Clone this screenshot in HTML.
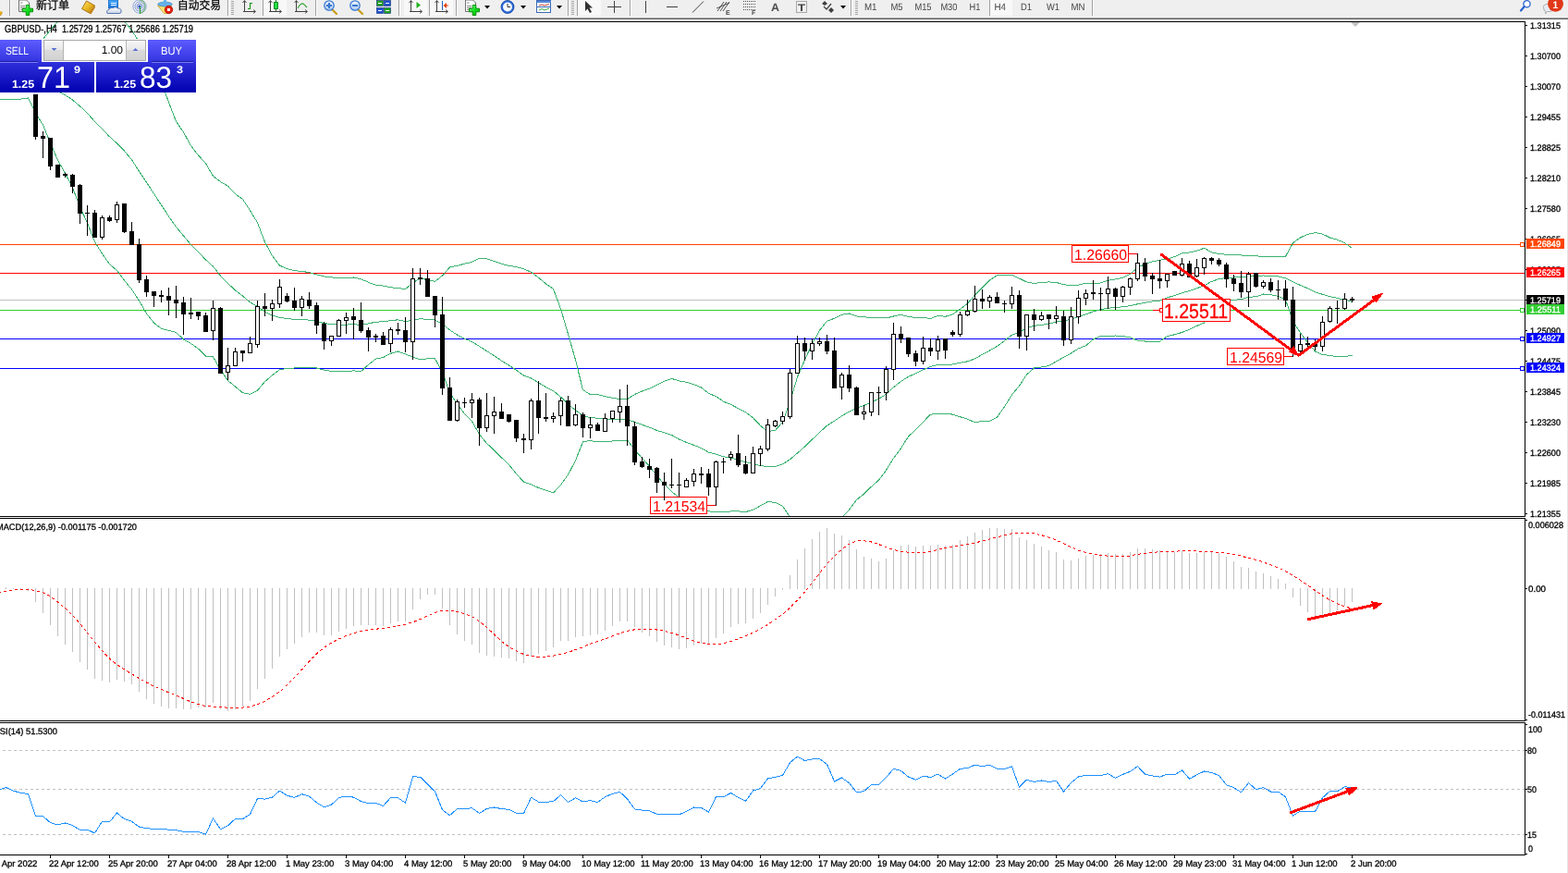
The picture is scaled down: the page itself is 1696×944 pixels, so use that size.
<!DOCTYPE html><html><head><meta charset="utf-8"><title>GBPUSD-,H4</title><style>html,body{margin:0;padding:0;background:#fff;width:1696px;height:944px;overflow:hidden}svg{display:block}text{font-family:"Liberation Sans","Noto Sans CJK SC",sans-serif}.t{text-rendering:geometricPrecision}</style></head><body>
<svg width="1696" height="944" viewBox="0 0 1696 944" shape-rendering="crispEdges">
<defs><clipPath id="cm"><rect x="0" y="24" width="1649" height="534"/></clipPath><clipPath id="cmacd"><rect x="0" y="561" width="1649" height="218"/></clipPath><clipPath id="crsi"><rect x="0" y="782" width="1649" height="142"/></clipPath><clipPath id="cax"><rect x="0" y="925" width="1649" height="19"/></clipPath></defs>
<rect x="0" y="0" width="1696" height="944" fill="#ffffff"/>
<g clip-path="url(#cm)">
<rect x="0" y="264" width="1649" height="1" fill="#ff4500"/>
<rect x="0" y="295" width="1649" height="1" fill="#ff0000"/>
<rect x="0" y="324" width="1649" height="1" fill="#c0c0c0"/>
<rect x="0" y="335" width="1649" height="1" fill="#32cd32"/>
<rect x="0" y="366" width="1649" height="1" fill="#0000ff"/>
<rect x="0" y="398" width="1649" height="1" fill="#0000ff"/>
<rect x="1644" y="262" width="5" height="5" fill="#ff4500"/>
<rect x="1645" y="263" width="3" height="3" fill="#fff"/>
<rect x="1644" y="333" width="5" height="5" fill="#32cd32"/>
<rect x="1645" y="334" width="3" height="3" fill="#fff"/>
<rect x="1644" y="364" width="5" height="5" fill="#0000ff"/>
<rect x="1645" y="365" width="3" height="3" fill="#fff"/>
<rect x="1644" y="396" width="5" height="5" fill="#0000ff"/>
<rect x="1645" y="397" width="3" height="3" fill="#fff"/>
<polyline points="-1.5,45.7 6.5,45.2 14.5,45.7 22.5,48.3 30.5,55.8 38.5,48.3 46.5,42.4 54.5,32.3 62.5,23.6 70.5,18.0 78.5,12.8 86.5,6.0 94.5,3.3 102.5,1.8 110.5,5.0 118.5,9.9 126.5,17.4 134.5,23.0 142.5,32.8 150.5,45.3 158.5,55.1 166.5,70.0 174.5,88.1 182.5,110.6 190.5,131.3 198.5,143.0 206.5,157.6 214.5,167.9 222.5,176.6 230.5,190.4 238.5,196.5 246.5,201.1 254.5,209.8 262.5,215.5 270.5,227.6 278.5,240.8 286.5,261.8 294.5,276.6 302.5,287.1 310.5,290.6 318.5,292.8 326.5,293.3 334.5,294.7 342.5,296.9 350.5,298.9 358.5,299.9 366.5,300.4 374.5,300.6 382.5,300.0 390.5,301.7 398.5,305.3 406.5,308.3 414.5,309.1 422.5,310.8 430.5,311.6 438.5,312.6 446.5,306.0 454.5,300.8 462.5,302.7 470.5,304.3 478.5,298.1 486.5,289.0 494.5,287.4 502.5,285.2 510.5,283.4 518.5,279.2 526.5,279.9 534.5,282.5 542.5,285.3 550.5,287.5 558.5,288.5 566.5,290.8 574.5,294.3 582.5,300.2 590.5,306.9 598.5,312.4 606.5,334.0 614.5,361.1 622.5,389.2 630.5,421.6 638.5,426.7 646.5,426.5 654.5,428.7 662.5,430.2 670.5,431.6 678.5,431.6 686.5,426.5 694.5,423.0 702.5,420.1 710.5,416.1 718.5,412.2 726.5,409.4 734.5,411.9 742.5,413.3 750.5,415.7 758.5,418.9 766.5,425.4 774.5,428.6 782.5,434.2 790.5,437.3 798.5,441.7 806.5,445.6 814.5,451.7 822.5,460.3 830.5,466.7 838.5,465.3 846.5,456.5 854.5,434.6 862.5,407.6 870.5,389.1 878.5,371.9 886.5,357.3 894.5,347.1 902.5,344.3 910.5,340.3 918.5,339.0 926.5,341.9 934.5,342.9 942.5,343.2 950.5,343.7 958.5,344.0 966.5,342.0 974.5,340.2 982.5,342.5 990.5,343.4 998.5,343.5 1006.5,344.5 1014.5,341.4 1022.5,342.3 1030.5,339.9 1038.5,334.2 1046.5,328.4 1054.5,319.1 1062.5,311.0 1070.5,302.9 1078.5,297.7 1086.5,297.3 1094.5,297.4 1102.5,301.1 1110.5,304.9 1118.5,306.5 1126.5,305.5 1134.5,304.9 1142.5,305.4 1150.5,307.8 1158.5,308.5 1166.5,308.1 1174.5,306.1 1182.5,306.9 1190.5,306.0 1198.5,303.2 1206.5,302.0 1214.5,300.1 1222.5,296.3 1230.5,289.2 1238.5,285.7 1246.5,282.9 1254.5,281.2 1262.5,280.0 1270.5,277.6 1278.5,273.9 1286.5,272.9 1294.5,271.2 1302.5,268.3 1310.5,272.9 1318.5,274.5 1326.5,275.3 1334.5,275.8 1342.5,276.0 1350.5,276.4 1358.5,276.6 1366.5,278.0 1374.5,277.7 1382.5,277.2 1390.5,277.4 1398.5,262.7 1406.5,256.9 1414.5,253.3 1422.5,251.6 1430.5,253.1 1438.5,257.0 1446.5,259.2 1454.5,262.7 1462.5,268.4" fill="none" stroke="#3cb371" stroke-width="1"/>
<polyline points="-1.5,76.7 6.5,76.3 14.5,76.6 22.5,77.7 30.5,80.9 38.5,85.3 46.5,88.7 54.5,93.4 62.5,98.4 70.5,102.8 78.5,108.0 86.5,114.9 94.5,122.2 102.5,131.6 110.5,139.7 118.5,147.8 126.5,155.0 134.5,163.1 142.5,172.8 150.5,185.3 158.5,197.2 166.5,209.5 174.5,221.7 182.5,234.0 190.5,245.4 198.5,255.0 206.5,264.5 214.5,272.6 222.5,280.9 230.5,288.1 238.5,298.2 246.5,306.4 254.5,313.9 262.5,320.1 270.5,326.9 278.5,331.6 286.5,337.2 294.5,341.1 302.5,343.4 310.5,344.5 318.5,345.4 326.5,345.6 334.5,346.1 342.5,347.5 350.5,349.5 358.5,350.7 366.5,351.0 374.5,351.1 382.5,350.5 390.5,351.7 398.5,349.8 406.5,348.2 414.5,347.8 422.5,346.6 430.5,345.8 438.5,347.7 446.5,346.1 454.5,344.8 462.5,345.3 470.5,346.0 478.5,350.4 486.5,356.9 494.5,362.1 502.5,366.3 510.5,369.5 518.5,374.5 526.5,379.6 534.5,384.7 542.5,390.1 550.5,395.0 558.5,400.4 566.5,406.0 574.5,409.0 582.5,413.8 590.5,418.6 598.5,422.6 606.5,429.2 614.5,437.2 622.5,443.6 630.5,449.6 638.5,451.6 646.5,452.2 654.5,453.1 662.5,453.6 670.5,453.9 678.5,453.8 686.5,456.3 694.5,459.3 702.5,462.1 710.5,465.4 718.5,467.9 726.5,470.4 734.5,475.0 742.5,478.4 750.5,481.4 758.5,484.5 766.5,489.2 774.5,491.1 782.5,493.7 790.5,495.2 798.5,497.3 806.5,499.6 814.5,501.5 822.5,503.6 830.5,504.6 838.5,504.4 846.5,501.9 854.5,496.8 862.5,490.0 870.5,482.9 878.5,475.2 886.5,467.5 894.5,460.2 902.5,455.2 910.5,449.8 918.5,445.1 926.5,441.2 934.5,438.5 942.5,434.7 950.5,431.4 958.5,426.2 966.5,418.7 974.5,412.5 982.5,407.3 990.5,403.9 998.5,399.9 1006.5,396.3 1014.5,394.5 1022.5,394.9 1030.5,394.0 1038.5,392.4 1046.5,390.8 1054.5,387.9 1062.5,383.3 1070.5,379.1 1078.5,374.4 1086.5,368.5 1094.5,362.2 1102.5,359.2 1110.5,354.9 1118.5,352.3 1126.5,351.3 1134.5,350.2 1142.5,348.1 1150.5,347.0 1158.5,345.3 1166.5,342.4 1174.5,339.9 1182.5,336.9 1190.5,334.7 1198.5,333.3 1206.5,332.5 1214.5,331.8 1222.5,330.6 1230.5,328.8 1238.5,327.3 1246.5,326.0 1254.5,325.2 1262.5,321.8 1270.5,319.7 1278.5,316.7 1286.5,314.6 1294.5,311.8 1302.5,308.7 1310.5,304.4 1318.5,301.6 1326.5,300.5 1334.5,300.0 1342.5,299.9 1350.5,298.9 1358.5,298.7 1366.5,298.0 1374.5,298.2 1382.5,298.8 1390.5,300.8 1398.5,304.9 1406.5,308.4 1414.5,311.9 1422.5,315.8 1430.5,318.3 1438.5,320.7 1446.5,322.4 1454.5,324.1 1462.5,326.4" fill="none" stroke="#3cb371" stroke-width="1"/>
<polyline points="-1.5,107.7 6.5,107.3 14.5,107.5 22.5,107.1 30.5,106.0 38.5,122.2 46.5,135.1 54.5,154.6 62.5,173.2 70.5,187.5 78.5,203.1 86.5,223.8 94.5,241.2 102.5,261.5 110.5,274.3 118.5,285.7 126.5,292.5 134.5,303.2 142.5,312.9 150.5,325.2 158.5,339.2 166.5,349.1 174.5,355.3 182.5,357.4 190.5,359.4 198.5,367.0 206.5,371.4 214.5,377.2 222.5,385.2 230.5,385.9 238.5,399.9 246.5,411.7 254.5,418.0 262.5,424.8 270.5,426.3 278.5,422.3 286.5,412.7 294.5,405.7 302.5,399.7 310.5,398.4 318.5,398.0 326.5,397.8 334.5,397.5 342.5,398.0 350.5,400.1 358.5,401.5 366.5,401.6 374.5,401.6 382.5,400.9 390.5,401.7 398.5,394.3 406.5,388.1 414.5,386.5 422.5,382.3 430.5,380.0 438.5,382.8 446.5,386.2 454.5,388.7 462.5,387.8 470.5,387.7 478.5,402.6 486.5,424.8 494.5,436.8 502.5,447.4 510.5,455.6 518.5,469.7 526.5,479.3 534.5,487.0 542.5,494.8 550.5,502.5 558.5,512.3 566.5,521.2 574.5,523.8 582.5,527.4 590.5,530.3 598.5,532.9 606.5,524.5 614.5,513.2 622.5,497.9 630.5,477.7 638.5,476.5 646.5,477.9 654.5,477.5 662.5,477.0 670.5,476.2 678.5,476.0 686.5,486.2 694.5,495.6 702.5,504.0 710.5,514.6 718.5,523.7 726.5,531.5 734.5,538.1 742.5,543.4 750.5,547.0 758.5,550.1 766.5,552.9 774.5,553.6 782.5,553.2 790.5,553.0 798.5,552.9 806.5,553.6 814.5,551.3 822.5,546.9 830.5,542.5 838.5,543.4 846.5,547.3 854.5,559.1 862.5,572.4 870.5,576.7 878.5,578.5 886.5,577.7 894.5,573.3 902.5,566.1 910.5,559.4 918.5,551.3 926.5,540.5 934.5,534.2 942.5,526.2 950.5,519.1 958.5,508.4 966.5,495.4 974.5,484.7 982.5,472.2 990.5,464.3 998.5,456.3 1006.5,448.1 1014.5,447.6 1022.5,447.4 1030.5,448.1 1038.5,450.7 1046.5,453.2 1054.5,456.8 1062.5,455.5 1070.5,455.2 1078.5,451.2 1086.5,439.7 1094.5,426.9 1102.5,417.3 1110.5,405.0 1118.5,398.0 1126.5,397.0 1134.5,395.5 1142.5,390.9 1150.5,386.2 1158.5,382.1 1166.5,376.8 1174.5,373.8 1182.5,366.9 1190.5,363.4 1198.5,363.4 1206.5,363.0 1214.5,363.6 1222.5,364.9 1230.5,368.3 1238.5,369.0 1246.5,369.0 1254.5,369.2 1262.5,363.6 1270.5,361.8 1278.5,359.4 1286.5,356.3 1294.5,352.4 1302.5,349.1 1310.5,335.9 1318.5,328.6 1326.5,325.7 1334.5,324.2 1342.5,323.8 1350.5,321.3 1358.5,320.8 1366.5,318.0 1374.5,318.6 1382.5,320.4 1390.5,324.2 1398.5,347.1 1406.5,360.0 1414.5,370.4 1422.5,380.0 1430.5,383.5 1438.5,384.5 1446.5,385.7 1454.5,385.6 1462.5,384.4" fill="none" stroke="#3cb371" stroke-width="1"/>
</g>
<g clip-path="url(#cm)">
<rect x="1159" y="265" width="62" height="19" fill="#ff0000"/>
<rect x="1160" y="266" width="60" height="17" fill="#ffffff"/>
<rect x="1221" y="274" width="10" height="1" fill="#ff0000"/>
<text x="1162" y="281" font-size="16" fill="#ff0000" textLength="57" lengthAdjust="spacingAndGlyphs" class="t" stroke="#ff0000" stroke-width="0">1.26660</text>
<rect x="703" y="537" width="62" height="19" fill="#ff0000"/>
<rect x="704" y="538" width="60" height="17" fill="#ffffff"/>
<rect x="765" y="546" width="10" height="1" fill="#ff0000"/>
<text x="706" y="553" font-size="16" fill="#ff0000" textLength="57" lengthAdjust="spacingAndGlyphs" class="t" stroke="#ff0000" stroke-width="0">1.21534</text>
<rect x="1327" y="376" width="62" height="19" fill="#ff0000"/>
<rect x="1328" y="377" width="60" height="17" fill="#ffffff"/>
<rect x="1389" y="385" width="10" height="1" fill="#ff0000"/>
<text x="1330" y="392" font-size="16" fill="#ff0000" textLength="57" lengthAdjust="spacingAndGlyphs" class="t" stroke="#ff0000" stroke-width="0">1.24569</text>
<rect x="1247" y="335" width="8" height="1" fill="#ff0000"/>
<rect x="1254" y="333" width="4" height="5" fill="#ff0000"/>
<rect x="1255" y="334" width="2" height="3" fill="#fff"/>
<rect x="1257" y="323" width="74" height="25" fill="#ff0000"/>
<rect x="1258" y="324" width="72" height="23" fill="#ffffff"/>
<text x="1259" y="344" font-size="22" fill="#ff0000" textLength="69" lengthAdjust="spacingAndGlyphs" class="t" stroke="#ff0000" stroke-width="0.3">1.25511</text>
</g>
<g clip-path="url(#cm)">
<rect x="38" y="102" width="1" height="49" fill="#000"/>
<rect x="36" y="102" width="5" height="46" fill="#000"/>
<rect x="46" y="142" width="1" height="29" fill="#000"/>
<rect x="44" y="147" width="5" height="3" fill="#000"/>
<rect x="54" y="149" width="1" height="35" fill="#000"/>
<rect x="52" y="149" width="5" height="31" fill="#000"/>
<rect x="62" y="178" width="1" height="14" fill="#000"/>
<rect x="60" y="178" width="5" height="14" fill="#000"/>
<rect x="70" y="187" width="1" height="5" fill="#000"/>
<rect x="68" y="188" width="5" height="2" fill="#000"/>
<rect x="78" y="188" width="1" height="21" fill="#000"/>
<rect x="76" y="189" width="5" height="13" fill="#000"/>
<rect x="86" y="199" width="1" height="43" fill="#000"/>
<rect x="84" y="200" width="5" height="31" fill="#000"/>
<rect x="94" y="222" width="1" height="33" fill="#000"/>
<rect x="92" y="230" width="5" height="1" fill="#000"/>
<rect x="102" y="227" width="1" height="30" fill="#000"/>
<rect x="100" y="230" width="5" height="27" fill="#000"/>
<rect x="110" y="233" width="1" height="26" fill="#000"/>
<rect x="108" y="235" width="5" height="22" fill="#000"/>
<rect x="109" y="236" width="3" height="20" fill="#fff"/>
<rect x="118" y="233" width="1" height="7" fill="#000"/>
<rect x="116" y="235" width="5" height="4" fill="#000"/>
<rect x="126" y="218" width="1" height="23" fill="#000"/>
<rect x="124" y="221" width="5" height="17" fill="#000"/>
<rect x="125" y="222" width="3" height="15" fill="#fff"/>
<rect x="134" y="220" width="1" height="32" fill="#000"/>
<rect x="132" y="220" width="5" height="31" fill="#000"/>
<rect x="142" y="240" width="1" height="25" fill="#000"/>
<rect x="140" y="250" width="5" height="15" fill="#000"/>
<rect x="150" y="258" width="1" height="48" fill="#000"/>
<rect x="148" y="264" width="5" height="39" fill="#000"/>
<rect x="158" y="298" width="1" height="23" fill="#000"/>
<rect x="156" y="302" width="5" height="14" fill="#000"/>
<rect x="166" y="315" width="1" height="17" fill="#000"/>
<rect x="164" y="315" width="5" height="5" fill="#000"/>
<rect x="174" y="314" width="1" height="13" fill="#000"/>
<rect x="172" y="319" width="5" height="2" fill="#000"/>
<rect x="182" y="311" width="1" height="30" fill="#000"/>
<rect x="180" y="320" width="5" height="5" fill="#000"/>
<rect x="190" y="309" width="1" height="35" fill="#000"/>
<rect x="188" y="324" width="5" height="4" fill="#000"/>
<rect x="198" y="321" width="1" height="41" fill="#000"/>
<rect x="196" y="327" width="5" height="13" fill="#000"/>
<rect x="206" y="322" width="1" height="23" fill="#000"/>
<rect x="204" y="338" width="5" height="2" fill="#000"/>
<rect x="214" y="337" width="1" height="9" fill="#000"/>
<rect x="212" y="337" width="5" height="5" fill="#000"/>
<rect x="222" y="338" width="1" height="21" fill="#000"/>
<rect x="220" y="341" width="5" height="18" fill="#000"/>
<rect x="230" y="325" width="1" height="43" fill="#000"/>
<rect x="228" y="333" width="5" height="25" fill="#000"/>
<rect x="229" y="334" width="3" height="23" fill="#fff"/>
<rect x="238" y="332" width="1" height="72" fill="#000"/>
<rect x="236" y="333" width="5" height="71" fill="#000"/>
<rect x="246" y="376" width="1" height="35" fill="#000"/>
<rect x="244" y="395" width="5" height="8" fill="#000"/>
<rect x="245" y="396" width="3" height="6" fill="#fff"/>
<rect x="254" y="376" width="1" height="20" fill="#000"/>
<rect x="252" y="380" width="5" height="16" fill="#000"/>
<rect x="253" y="381" width="3" height="14" fill="#fff"/>
<rect x="262" y="379" width="1" height="12" fill="#000"/>
<rect x="260" y="379" width="5" height="3" fill="#000"/>
<rect x="270" y="364" width="1" height="18" fill="#000"/>
<rect x="268" y="371" width="5" height="11" fill="#000"/>
<rect x="269" y="372" width="3" height="9" fill="#fff"/>
<rect x="278" y="325" width="1" height="51" fill="#000"/>
<rect x="276" y="331" width="5" height="42" fill="#000"/>
<rect x="277" y="332" width="3" height="40" fill="#fff"/>
<rect x="286" y="317" width="1" height="25" fill="#000"/>
<rect x="284" y="331" width="5" height="3" fill="#000"/>
<rect x="294" y="324" width="1" height="23" fill="#000"/>
<rect x="292" y="328" width="5" height="6" fill="#000"/>
<rect x="293" y="329" width="3" height="4" fill="#fff"/>
<rect x="302" y="302" width="1" height="31" fill="#000"/>
<rect x="300" y="310" width="5" height="19" fill="#000"/>
<rect x="301" y="311" width="3" height="17" fill="#fff"/>
<rect x="310" y="317" width="1" height="10" fill="#000"/>
<rect x="308" y="320" width="5" height="6" fill="#000"/>
<rect x="318" y="311" width="1" height="25" fill="#000"/>
<rect x="316" y="325" width="5" height="8" fill="#000"/>
<rect x="326" y="320" width="1" height="22" fill="#000"/>
<rect x="324" y="323" width="5" height="10" fill="#000"/>
<rect x="325" y="324" width="3" height="8" fill="#fff"/>
<rect x="334" y="316" width="1" height="18" fill="#000"/>
<rect x="332" y="324" width="5" height="7" fill="#000"/>
<rect x="342" y="327" width="1" height="34" fill="#000"/>
<rect x="340" y="330" width="5" height="22" fill="#000"/>
<rect x="350" y="348" width="1" height="30" fill="#000"/>
<rect x="348" y="350" width="5" height="19" fill="#000"/>
<rect x="358" y="363" width="1" height="11" fill="#000"/>
<rect x="356" y="363" width="5" height="6" fill="#000"/>
<rect x="357" y="364" width="3" height="4" fill="#fff"/>
<rect x="366" y="345" width="1" height="19" fill="#000"/>
<rect x="364" y="346" width="5" height="18" fill="#000"/>
<rect x="365" y="347" width="3" height="16" fill="#fff"/>
<rect x="374" y="338" width="1" height="23" fill="#000"/>
<rect x="372" y="343" width="5" height="4" fill="#000"/>
<rect x="373" y="344" width="3" height="2" fill="#fff"/>
<rect x="382" y="333" width="1" height="34" fill="#000"/>
<rect x="380" y="342" width="5" height="4" fill="#000"/>
<rect x="390" y="327" width="1" height="33" fill="#000"/>
<rect x="388" y="346" width="5" height="12" fill="#000"/>
<rect x="398" y="354" width="1" height="26" fill="#000"/>
<rect x="396" y="357" width="5" height="8" fill="#000"/>
<rect x="406" y="361" width="1" height="9" fill="#000"/>
<rect x="404" y="363" width="5" height="2" fill="#000"/>
<rect x="414" y="359" width="1" height="14" fill="#000"/>
<rect x="412" y="363" width="5" height="10" fill="#000"/>
<rect x="422" y="354" width="1" height="27" fill="#000"/>
<rect x="420" y="356" width="5" height="16" fill="#000"/>
<rect x="421" y="357" width="3" height="14" fill="#fff"/>
<rect x="430" y="349" width="1" height="13" fill="#000"/>
<rect x="428" y="356" width="5" height="2" fill="#000"/>
<rect x="438" y="343" width="1" height="38" fill="#000"/>
<rect x="436" y="357" width="5" height="13" fill="#000"/>
<rect x="446" y="290" width="1" height="99" fill="#000"/>
<rect x="444" y="301" width="5" height="69" fill="#000"/>
<rect x="445" y="302" width="3" height="67" fill="#fff"/>
<rect x="454" y="290" width="1" height="18" fill="#000"/>
<rect x="452" y="300" width="5" height="2" fill="#000"/>
<rect x="462" y="292" width="1" height="29" fill="#000"/>
<rect x="460" y="301" width="5" height="20" fill="#000"/>
<rect x="470" y="320" width="1" height="34" fill="#000"/>
<rect x="468" y="320" width="5" height="21" fill="#000"/>
<rect x="478" y="321" width="1" height="106" fill="#000"/>
<rect x="476" y="340" width="5" height="80" fill="#000"/>
<rect x="486" y="408" width="1" height="47" fill="#000"/>
<rect x="484" y="419" width="5" height="36" fill="#000"/>
<rect x="494" y="432" width="1" height="24" fill="#000"/>
<rect x="492" y="434" width="5" height="21" fill="#000"/>
<rect x="493" y="435" width="3" height="19" fill="#fff"/>
<rect x="502" y="430" width="1" height="11" fill="#000"/>
<rect x="500" y="435" width="5" height="1" fill="#000"/>
<rect x="510" y="425" width="1" height="27" fill="#000"/>
<rect x="508" y="432" width="5" height="4" fill="#000"/>
<rect x="509" y="433" width="3" height="2" fill="#fff"/>
<rect x="518" y="430" width="1" height="52" fill="#000"/>
<rect x="516" y="432" width="5" height="31" fill="#000"/>
<rect x="526" y="425" width="1" height="42" fill="#000"/>
<rect x="524" y="449" width="5" height="14" fill="#000"/>
<rect x="525" y="450" width="3" height="12" fill="#fff"/>
<rect x="534" y="429" width="1" height="40" fill="#000"/>
<rect x="532" y="445" width="5" height="5" fill="#000"/>
<rect x="533" y="446" width="3" height="3" fill="#fff"/>
<rect x="542" y="436" width="1" height="17" fill="#000"/>
<rect x="540" y="445" width="5" height="8" fill="#000"/>
<rect x="550" y="448" width="1" height="9" fill="#000"/>
<rect x="548" y="448" width="5" height="8" fill="#000"/>
<rect x="558" y="454" width="1" height="24" fill="#000"/>
<rect x="556" y="454" width="5" height="20" fill="#000"/>
<rect x="566" y="469" width="1" height="21" fill="#000"/>
<rect x="564" y="474" width="5" height="2" fill="#000"/>
<rect x="574" y="431" width="1" height="55" fill="#000"/>
<rect x="572" y="433" width="5" height="43" fill="#000"/>
<rect x="573" y="434" width="3" height="41" fill="#fff"/>
<rect x="582" y="412" width="1" height="57" fill="#000"/>
<rect x="580" y="433" width="5" height="19" fill="#000"/>
<rect x="590" y="425" width="1" height="31" fill="#000"/>
<rect x="588" y="451" width="5" height="2" fill="#000"/>
<rect x="598" y="446" width="1" height="11" fill="#000"/>
<rect x="596" y="450" width="5" height="3" fill="#000"/>
<rect x="597" y="451" width="3" height="1" fill="#fff"/>
<rect x="606" y="430" width="1" height="30" fill="#000"/>
<rect x="604" y="433" width="5" height="17" fill="#000"/>
<rect x="605" y="434" width="3" height="15" fill="#fff"/>
<rect x="614" y="428" width="1" height="33" fill="#000"/>
<rect x="612" y="433" width="5" height="28" fill="#000"/>
<rect x="622" y="437" width="1" height="24" fill="#000"/>
<rect x="620" y="448" width="5" height="12" fill="#000"/>
<rect x="621" y="449" width="3" height="10" fill="#fff"/>
<rect x="630" y="446" width="1" height="27" fill="#000"/>
<rect x="628" y="448" width="5" height="15" fill="#000"/>
<rect x="638" y="451" width="1" height="23" fill="#000"/>
<rect x="636" y="459" width="5" height="4" fill="#000"/>
<rect x="637" y="460" width="3" height="2" fill="#fff"/>
<rect x="646" y="457" width="1" height="9" fill="#000"/>
<rect x="644" y="459" width="5" height="7" fill="#000"/>
<rect x="654" y="447" width="1" height="20" fill="#000"/>
<rect x="652" y="452" width="5" height="15" fill="#000"/>
<rect x="653" y="453" width="3" height="13" fill="#fff"/>
<rect x="662" y="444" width="1" height="13" fill="#000"/>
<rect x="660" y="444" width="5" height="9" fill="#000"/>
<rect x="661" y="445" width="3" height="7" fill="#fff"/>
<rect x="670" y="421" width="1" height="36" fill="#000"/>
<rect x="668" y="439" width="5" height="7" fill="#000"/>
<rect x="669" y="440" width="3" height="5" fill="#fff"/>
<rect x="678" y="416" width="1" height="66" fill="#000"/>
<rect x="676" y="439" width="5" height="22" fill="#000"/>
<rect x="686" y="456" width="1" height="47" fill="#000"/>
<rect x="684" y="461" width="5" height="39" fill="#000"/>
<rect x="694" y="494" width="1" height="12" fill="#000"/>
<rect x="692" y="499" width="5" height="6" fill="#000"/>
<rect x="702" y="496" width="1" height="21" fill="#000"/>
<rect x="700" y="504" width="5" height="4" fill="#000"/>
<rect x="710" y="505" width="1" height="28" fill="#000"/>
<rect x="708" y="506" width="5" height="16" fill="#000"/>
<rect x="718" y="511" width="1" height="30" fill="#000"/>
<rect x="716" y="521" width="5" height="4" fill="#000"/>
<rect x="726" y="496" width="1" height="32" fill="#000"/>
<rect x="724" y="524" width="5" height="1" fill="#000"/>
<rect x="734" y="511" width="1" height="26" fill="#000"/>
<rect x="732" y="524" width="5" height="1" fill="#000"/>
<rect x="742" y="517" width="1" height="10" fill="#000"/>
<rect x="740" y="519" width="5" height="8" fill="#000"/>
<rect x="741" y="520" width="3" height="6" fill="#fff"/>
<rect x="750" y="507" width="1" height="19" fill="#000"/>
<rect x="748" y="512" width="5" height="9" fill="#000"/>
<rect x="749" y="513" width="3" height="7" fill="#fff"/>
<rect x="758" y="505" width="1" height="18" fill="#000"/>
<rect x="756" y="512" width="5" height="2" fill="#000"/>
<rect x="766" y="507" width="1" height="29" fill="#000"/>
<rect x="764" y="512" width="5" height="15" fill="#000"/>
<rect x="774" y="498" width="1" height="49" fill="#000"/>
<rect x="772" y="499" width="5" height="28" fill="#000"/>
<rect x="773" y="500" width="3" height="26" fill="#fff"/>
<rect x="782" y="495" width="1" height="17" fill="#000"/>
<rect x="780" y="499" width="5" height="1" fill="#000"/>
<rect x="790" y="488" width="1" height="10" fill="#000"/>
<rect x="788" y="491" width="5" height="4" fill="#000"/>
<rect x="789" y="492" width="3" height="2" fill="#fff"/>
<rect x="798" y="470" width="1" height="35" fill="#000"/>
<rect x="796" y="490" width="5" height="13" fill="#000"/>
<rect x="806" y="493" width="1" height="20" fill="#000"/>
<rect x="804" y="502" width="5" height="10" fill="#000"/>
<rect x="814" y="483" width="1" height="29" fill="#000"/>
<rect x="812" y="490" width="5" height="22" fill="#000"/>
<rect x="813" y="491" width="3" height="20" fill="#fff"/>
<rect x="822" y="482" width="1" height="22" fill="#000"/>
<rect x="820" y="485" width="5" height="6" fill="#000"/>
<rect x="821" y="486" width="3" height="4" fill="#fff"/>
<rect x="830" y="453" width="1" height="35" fill="#000"/>
<rect x="828" y="459" width="5" height="27" fill="#000"/>
<rect x="829" y="460" width="3" height="25" fill="#fff"/>
<rect x="838" y="454" width="1" height="8" fill="#000"/>
<rect x="836" y="455" width="5" height="6" fill="#000"/>
<rect x="837" y="456" width="3" height="4" fill="#fff"/>
<rect x="846" y="445" width="1" height="14" fill="#000"/>
<rect x="844" y="450" width="5" height="6" fill="#000"/>
<rect x="845" y="451" width="3" height="4" fill="#fff"/>
<rect x="854" y="399" width="1" height="54" fill="#000"/>
<rect x="852" y="403" width="5" height="48" fill="#000"/>
<rect x="853" y="404" width="3" height="46" fill="#fff"/>
<rect x="862" y="363" width="1" height="41" fill="#000"/>
<rect x="860" y="371" width="5" height="33" fill="#000"/>
<rect x="861" y="372" width="3" height="31" fill="#fff"/>
<rect x="870" y="365" width="1" height="25" fill="#000"/>
<rect x="868" y="371" width="5" height="9" fill="#000"/>
<rect x="878" y="366" width="1" height="23" fill="#000"/>
<rect x="876" y="371" width="5" height="9" fill="#000"/>
<rect x="877" y="372" width="3" height="7" fill="#fff"/>
<rect x="886" y="365" width="1" height="9" fill="#000"/>
<rect x="884" y="369" width="5" height="3" fill="#000"/>
<rect x="885" y="370" width="3" height="1" fill="#fff"/>
<rect x="894" y="362" width="1" height="21" fill="#000"/>
<rect x="892" y="369" width="5" height="11" fill="#000"/>
<rect x="902" y="365" width="1" height="55" fill="#000"/>
<rect x="900" y="379" width="5" height="41" fill="#000"/>
<rect x="910" y="403" width="1" height="29" fill="#000"/>
<rect x="908" y="405" width="5" height="14" fill="#000"/>
<rect x="909" y="406" width="3" height="12" fill="#fff"/>
<rect x="918" y="395" width="1" height="29" fill="#000"/>
<rect x="916" y="405" width="5" height="15" fill="#000"/>
<rect x="926" y="418" width="1" height="31" fill="#000"/>
<rect x="924" y="419" width="5" height="30" fill="#000"/>
<rect x="934" y="438" width="1" height="16" fill="#000"/>
<rect x="932" y="445" width="5" height="3" fill="#000"/>
<rect x="933" y="446" width="3" height="1" fill="#fff"/>
<rect x="942" y="424" width="1" height="26" fill="#000"/>
<rect x="940" y="424" width="5" height="22" fill="#000"/>
<rect x="941" y="425" width="3" height="20" fill="#fff"/>
<rect x="950" y="418" width="1" height="31" fill="#000"/>
<rect x="948" y="424" width="5" height="1" fill="#000"/>
<rect x="958" y="396" width="1" height="37" fill="#000"/>
<rect x="956" y="399" width="5" height="26" fill="#000"/>
<rect x="957" y="400" width="3" height="24" fill="#fff"/>
<rect x="966" y="349" width="1" height="62" fill="#000"/>
<rect x="964" y="361" width="5" height="39" fill="#000"/>
<rect x="965" y="362" width="3" height="37" fill="#fff"/>
<rect x="974" y="353" width="1" height="18" fill="#000"/>
<rect x="972" y="361" width="5" height="6" fill="#000"/>
<rect x="982" y="365" width="1" height="21" fill="#000"/>
<rect x="980" y="365" width="5" height="18" fill="#000"/>
<rect x="990" y="379" width="1" height="17" fill="#000"/>
<rect x="988" y="382" width="5" height="9" fill="#000"/>
<rect x="998" y="364" width="1" height="30" fill="#000"/>
<rect x="996" y="376" width="5" height="15" fill="#000"/>
<rect x="997" y="377" width="3" height="13" fill="#fff"/>
<rect x="1006" y="366" width="1" height="19" fill="#000"/>
<rect x="1004" y="376" width="5" height="4" fill="#000"/>
<rect x="1014" y="363" width="1" height="26" fill="#000"/>
<rect x="1012" y="367" width="5" height="13" fill="#000"/>
<rect x="1013" y="368" width="3" height="11" fill="#fff"/>
<rect x="1022" y="366" width="1" height="22" fill="#000"/>
<rect x="1020" y="366" width="5" height="13" fill="#000"/>
<rect x="1030" y="357" width="1" height="7" fill="#000"/>
<rect x="1028" y="359" width="5" height="3" fill="#000"/>
<rect x="1038" y="337" width="1" height="27" fill="#000"/>
<rect x="1036" y="340" width="5" height="22" fill="#000"/>
<rect x="1037" y="341" width="3" height="20" fill="#fff"/>
<rect x="1046" y="324" width="1" height="18" fill="#000"/>
<rect x="1044" y="336" width="5" height="5" fill="#000"/>
<rect x="1045" y="337" width="3" height="3" fill="#fff"/>
<rect x="1054" y="309" width="1" height="29" fill="#000"/>
<rect x="1052" y="323" width="5" height="14" fill="#000"/>
<rect x="1053" y="324" width="3" height="12" fill="#fff"/>
<rect x="1062" y="313" width="1" height="21" fill="#000"/>
<rect x="1060" y="323" width="5" height="3" fill="#000"/>
<rect x="1070" y="319" width="1" height="14" fill="#000"/>
<rect x="1068" y="321" width="5" height="5" fill="#000"/>
<rect x="1069" y="322" width="3" height="3" fill="#fff"/>
<rect x="1078" y="316" width="1" height="12" fill="#000"/>
<rect x="1076" y="321" width="5" height="7" fill="#000"/>
<rect x="1086" y="325" width="1" height="13" fill="#000"/>
<rect x="1084" y="328" width="5" height="1" fill="#000"/>
<rect x="1094" y="310" width="1" height="24" fill="#000"/>
<rect x="1092" y="319" width="5" height="10" fill="#000"/>
<rect x="1093" y="320" width="3" height="8" fill="#fff"/>
<rect x="1102" y="314" width="1" height="63" fill="#000"/>
<rect x="1100" y="319" width="5" height="45" fill="#000"/>
<rect x="1110" y="340" width="1" height="39" fill="#000"/>
<rect x="1108" y="340" width="5" height="24" fill="#000"/>
<rect x="1109" y="341" width="3" height="22" fill="#fff"/>
<rect x="1118" y="334" width="1" height="24" fill="#000"/>
<rect x="1116" y="340" width="5" height="6" fill="#000"/>
<rect x="1126" y="337" width="1" height="10" fill="#000"/>
<rect x="1124" y="341" width="5" height="5" fill="#000"/>
<rect x="1125" y="342" width="3" height="3" fill="#fff"/>
<rect x="1134" y="340" width="1" height="16" fill="#000"/>
<rect x="1132" y="340" width="5" height="5" fill="#000"/>
<rect x="1142" y="331" width="1" height="19" fill="#000"/>
<rect x="1140" y="341" width="5" height="4" fill="#000"/>
<rect x="1141" y="342" width="3" height="2" fill="#fff"/>
<rect x="1150" y="336" width="1" height="38" fill="#000"/>
<rect x="1148" y="342" width="5" height="26" fill="#000"/>
<rect x="1158" y="332" width="1" height="40" fill="#000"/>
<rect x="1156" y="342" width="5" height="26" fill="#000"/>
<rect x="1157" y="343" width="3" height="24" fill="#fff"/>
<rect x="1166" y="314" width="1" height="36" fill="#000"/>
<rect x="1164" y="322" width="5" height="21" fill="#000"/>
<rect x="1165" y="323" width="3" height="19" fill="#fff"/>
<rect x="1174" y="313" width="1" height="17" fill="#000"/>
<rect x="1172" y="317" width="5" height="6" fill="#000"/>
<rect x="1173" y="318" width="3" height="4" fill="#fff"/>
<rect x="1182" y="303" width="1" height="21" fill="#000"/>
<rect x="1180" y="316" width="5" height="2" fill="#000"/>
<rect x="1190" y="311" width="1" height="25" fill="#000"/>
<rect x="1188" y="317" width="5" height="1" fill="#000"/>
<rect x="1198" y="299" width="1" height="35" fill="#000"/>
<rect x="1196" y="312" width="5" height="6" fill="#000"/>
<rect x="1197" y="313" width="3" height="4" fill="#fff"/>
<rect x="1206" y="311" width="1" height="24" fill="#000"/>
<rect x="1204" y="312" width="5" height="9" fill="#000"/>
<rect x="1214" y="309" width="1" height="18" fill="#000"/>
<rect x="1212" y="310" width="5" height="11" fill="#000"/>
<rect x="1213" y="311" width="3" height="9" fill="#fff"/>
<rect x="1222" y="300" width="1" height="19" fill="#000"/>
<rect x="1220" y="301" width="5" height="10" fill="#000"/>
<rect x="1221" y="302" width="3" height="8" fill="#fff"/>
<rect x="1230" y="274" width="1" height="30" fill="#000"/>
<rect x="1228" y="284" width="5" height="18" fill="#000"/>
<rect x="1229" y="285" width="3" height="16" fill="#fff"/>
<rect x="1238" y="279" width="1" height="25" fill="#000"/>
<rect x="1236" y="284" width="5" height="15" fill="#000"/>
<rect x="1246" y="295" width="1" height="23" fill="#000"/>
<rect x="1244" y="298" width="5" height="4" fill="#000"/>
<rect x="1254" y="281" width="1" height="31" fill="#000"/>
<rect x="1252" y="301" width="5" height="3" fill="#000"/>
<rect x="1262" y="296" width="1" height="15" fill="#000"/>
<rect x="1260" y="296" width="5" height="8" fill="#000"/>
<rect x="1261" y="297" width="3" height="6" fill="#fff"/>
<rect x="1270" y="293" width="1" height="5" fill="#000"/>
<rect x="1268" y="293" width="5" height="5" fill="#000"/>
<rect x="1278" y="279" width="1" height="20" fill="#000"/>
<rect x="1276" y="285" width="5" height="13" fill="#000"/>
<rect x="1277" y="286" width="3" height="11" fill="#fff"/>
<rect x="1286" y="282" width="1" height="18" fill="#000"/>
<rect x="1284" y="285" width="5" height="15" fill="#000"/>
<rect x="1294" y="280" width="1" height="20" fill="#000"/>
<rect x="1292" y="289" width="5" height="10" fill="#000"/>
<rect x="1293" y="290" width="3" height="8" fill="#fff"/>
<rect x="1302" y="278" width="1" height="19" fill="#000"/>
<rect x="1300" y="279" width="5" height="11" fill="#000"/>
<rect x="1301" y="280" width="3" height="9" fill="#fff"/>
<rect x="1310" y="278" width="1" height="8" fill="#000"/>
<rect x="1308" y="279" width="5" height="3" fill="#000"/>
<rect x="1318" y="279" width="1" height="9" fill="#000"/>
<rect x="1316" y="281" width="5" height="5" fill="#000"/>
<rect x="1326" y="284" width="1" height="27" fill="#000"/>
<rect x="1324" y="286" width="5" height="16" fill="#000"/>
<rect x="1334" y="297" width="1" height="18" fill="#000"/>
<rect x="1332" y="301" width="5" height="6" fill="#000"/>
<rect x="1342" y="293" width="1" height="29" fill="#000"/>
<rect x="1340" y="306" width="5" height="10" fill="#000"/>
<rect x="1350" y="294" width="1" height="38" fill="#000"/>
<rect x="1348" y="296" width="5" height="20" fill="#000"/>
<rect x="1349" y="297" width="3" height="18" fill="#fff"/>
<rect x="1358" y="295" width="1" height="16" fill="#000"/>
<rect x="1356" y="295" width="5" height="15" fill="#000"/>
<rect x="1366" y="303" width="1" height="9" fill="#000"/>
<rect x="1364" y="305" width="5" height="5" fill="#000"/>
<rect x="1365" y="306" width="3" height="3" fill="#fff"/>
<rect x="1374" y="301" width="1" height="15" fill="#000"/>
<rect x="1372" y="305" width="5" height="9" fill="#000"/>
<rect x="1382" y="303" width="1" height="21" fill="#000"/>
<rect x="1380" y="313" width="5" height="1" fill="#000"/>
<rect x="1390" y="303" width="1" height="29" fill="#000"/>
<rect x="1388" y="312" width="5" height="13" fill="#000"/>
<rect x="1398" y="310" width="1" height="76" fill="#000"/>
<rect x="1396" y="324" width="5" height="58" fill="#000"/>
<rect x="1406" y="361" width="1" height="20" fill="#000"/>
<rect x="1404" y="372" width="5" height="8" fill="#000"/>
<rect x="1405" y="373" width="3" height="6" fill="#fff"/>
<rect x="1414" y="364" width="1" height="11" fill="#000"/>
<rect x="1412" y="371" width="5" height="2" fill="#000"/>
<rect x="1422" y="367" width="1" height="12" fill="#000"/>
<rect x="1420" y="372" width="5" height="3" fill="#000"/>
<rect x="1430" y="342" width="1" height="38" fill="#000"/>
<rect x="1428" y="348" width="5" height="27" fill="#000"/>
<rect x="1429" y="349" width="3" height="25" fill="#fff"/>
<rect x="1438" y="331" width="1" height="18" fill="#000"/>
<rect x="1436" y="333" width="5" height="15" fill="#000"/>
<rect x="1437" y="334" width="3" height="13" fill="#fff"/>
<rect x="1446" y="325" width="1" height="25" fill="#000"/>
<rect x="1444" y="333" width="5" height="1" fill="#000"/>
<rect x="1454" y="317" width="1" height="18" fill="#000"/>
<rect x="1452" y="323" width="5" height="11" fill="#000"/>
<rect x="1453" y="324" width="3" height="9" fill="#fff"/>
<rect x="1462" y="321" width="1" height="6" fill="#000"/>
<rect x="1460" y="323" width="5" height="2" fill="#000"/>
</g>
<g clip-path="url(#cm)">
<line x1="1256.5" y1="275.5" x2="1400" y2="381" stroke="#ff0000" stroke-width="3" stroke-linecap="square"/>
<polygon points="1394,380.8 1399.5,374 1405,385.5" fill="#ff0000"/>
<line x1="1405" y1="384" x2="1488" y2="323" stroke="#ff0000" stroke-width="3" stroke-linecap="square"/>
<polygon points="1483,320.8 1488.6,327.4 1496.5,316.5" fill="#ff0000"/>
</g>
<polygon points="1461,24 1471,24 1466,29" fill="#c0c0c0" shape-rendering="auto"/>
<text x="5" y="35" font-size="10" fill="#000" textLength="204" lengthAdjust="spacingAndGlyphs" stroke="#000" stroke-width="0.3" style="white-space:pre">GBPUSD-,H4  1.25729 1.25767 1.25686 1.25719</text>
<defs><linearGradient id="gtab" x1="0" y1="0" x2="0" y2="1"><stop offset="0" stop-color="#5c5cff"/><stop offset="1" stop-color="#3434e0"/></linearGradient><linearGradient id="gbox" x1="0" y1="0" x2="0" y2="1"><stop offset="0" stop-color="#3030dc"/><stop offset="1" stop-color="#0000b0"/></linearGradient><linearGradient id="gbtn" x1="0" y1="0" x2="0" y2="1"><stop offset="0" stop-color="#f6f6f6"/><stop offset="0.45" stop-color="#e8e8e8"/><stop offset="0.5" stop-color="#dadada"/><stop offset="1" stop-color="#d2d2d2"/></linearGradient></defs>
<rect x="45" y="42" width="115" height="25" fill="#ffffff"/>
<rect x="0" y="43" width="45" height="24" fill="url(#gtab)"/>
<rect x="0" y="67" width="102" height="33" fill="url(#gbox)"/>
<rect x="0" y="66" width="41" height="1" fill="#1c1c9c"/>
<rect x="0" y="67" width="41" height="1" fill="#7a7aff"/>
<rect x="160" y="43" width="52" height="24" fill="url(#gtab)"/>
<rect x="104" y="67" width="108" height="33" fill="url(#gbox)"/>
<rect x="164" y="66" width="45" height="1" fill="#1c1c9c"/>
<rect x="164" y="67" width="45" height="1" fill="#7a7aff"/>
<rect x="47" y="43" width="111" height="23" fill="#a8a8a8"/>
<rect x="48" y="44" width="109" height="21" fill="#ffffff"/>
<rect x="48" y="44" width="20" height="21" fill="url(#gbtn)"/>
<rect x="68" y="44" width="1" height="21" fill="#b4b4b4"/>
<rect x="137" y="44" width="20" height="21" fill="url(#gbtn)"/>
<rect x="136" y="44" width="1" height="21" fill="#b4b4b4"/>
<polygon points="55.5,52 61.5,52 58.5,55" fill="#5a70d0" shape-rendering="auto"/>
<polygon points="143.5,55 149.5,55 146.5,52" fill="#5a70d0" shape-rendering="auto"/>
<text x="133" y="58" font-size="12" fill="#000" text-anchor="end" class="t">1.00</text>
<text x="6" y="59" font-size="12" fill="#ffffff" textLength="25" lengthAdjust="spacingAndGlyphs" class="t">SELL</text>
<text x="174" y="59" font-size="12" fill="#ffffff" textLength="23" lengthAdjust="spacingAndGlyphs" class="t">BUY</text>
<text x="13" y="95" font-size="12" fill="#ffffff" textLength="24" lengthAdjust="spacingAndGlyphs" font-weight="bold" class="t">1.25</text>
<text x="40" y="95" font-size="33" fill="#ffffff" textLength="36" lengthAdjust="spacingAndGlyphs" class="t">71</text>
<text x="80" y="79" font-size="11" fill="#ffffff" textLength="7" lengthAdjust="spacingAndGlyphs" font-weight="bold" class="t">9</text>
<text x="123" y="95" font-size="12" fill="#ffffff" textLength="24" lengthAdjust="spacingAndGlyphs" font-weight="bold" class="t">1.25</text>
<text x="151" y="95" font-size="33" fill="#ffffff" textLength="35" lengthAdjust="spacingAndGlyphs" class="t">83</text>
<text x="191" y="79" font-size="11" fill="#ffffff" textLength="7" lengthAdjust="spacingAndGlyphs" font-weight="bold" class="t">3</text>
<g clip-path="url(#cmacd)">
<rect x="6" y="635" width="1" height="2" fill="#c0c0c0"/>
<rect x="14" y="636" width="1" height="1" fill="#c0c0c0"/>
<rect x="22" y="636" width="1" height="1" fill="#c0c0c0"/>
<rect x="30" y="636" width="1" height="3" fill="#c0c0c0"/>
<rect x="38" y="636" width="1" height="15" fill="#c0c0c0"/>
<rect x="46" y="636" width="1" height="27" fill="#c0c0c0"/>
<rect x="54" y="636" width="1" height="40" fill="#c0c0c0"/>
<rect x="62" y="636" width="1" height="52" fill="#c0c0c0"/>
<rect x="70" y="636" width="1" height="61" fill="#c0c0c0"/>
<rect x="78" y="636" width="1" height="69" fill="#c0c0c0"/>
<rect x="86" y="636" width="1" height="80" fill="#c0c0c0"/>
<rect x="94" y="636" width="1" height="88" fill="#c0c0c0"/>
<rect x="102" y="636" width="1" height="98" fill="#c0c0c0"/>
<rect x="110" y="636" width="1" height="100" fill="#c0c0c0"/>
<rect x="118" y="636" width="1" height="102" fill="#c0c0c0"/>
<rect x="126" y="636" width="1" height="99" fill="#c0c0c0"/>
<rect x="134" y="636" width="1" height="101" fill="#c0c0c0"/>
<rect x="142" y="636" width="1" height="104" fill="#c0c0c0"/>
<rect x="150" y="636" width="1" height="112" fill="#c0c0c0"/>
<rect x="158" y="636" width="1" height="120" fill="#c0c0c0"/>
<rect x="166" y="636" width="1" height="125" fill="#c0c0c0"/>
<rect x="174" y="636" width="1" height="128" fill="#c0c0c0"/>
<rect x="182" y="636" width="1" height="130" fill="#c0c0c0"/>
<rect x="190" y="636" width="1" height="130" fill="#c0c0c0"/>
<rect x="198" y="636" width="1" height="131" fill="#c0c0c0"/>
<rect x="206" y="636" width="1" height="131" fill="#c0c0c0"/>
<rect x="214" y="636" width="1" height="129" fill="#c0c0c0"/>
<rect x="222" y="636" width="1" height="129" fill="#c0c0c0"/>
<rect x="230" y="636" width="1" height="124" fill="#c0c0c0"/>
<rect x="238" y="636" width="1" height="131" fill="#c0c0c0"/>
<rect x="246" y="636" width="1" height="133" fill="#c0c0c0"/>
<rect x="254" y="636" width="1" height="131" fill="#c0c0c0"/>
<rect x="262" y="636" width="1" height="128" fill="#c0c0c0"/>
<rect x="270" y="636" width="1" height="122" fill="#c0c0c0"/>
<rect x="278" y="636" width="1" height="109" fill="#c0c0c0"/>
<rect x="286" y="636" width="1" height="98" fill="#c0c0c0"/>
<rect x="294" y="636" width="1" height="87" fill="#c0c0c0"/>
<rect x="302" y="636" width="1" height="74" fill="#c0c0c0"/>
<rect x="310" y="636" width="1" height="66" fill="#c0c0c0"/>
<rect x="318" y="636" width="1" height="60" fill="#c0c0c0"/>
<rect x="326" y="636" width="1" height="53" fill="#c0c0c0"/>
<rect x="334" y="636" width="1" height="48" fill="#c0c0c0"/>
<rect x="342" y="636" width="1" height="48" fill="#c0c0c0"/>
<rect x="350" y="636" width="1" height="51" fill="#c0c0c0"/>
<rect x="358" y="636" width="1" height="51" fill="#c0c0c0"/>
<rect x="366" y="636" width="1" height="47" fill="#c0c0c0"/>
<rect x="374" y="636" width="1" height="44" fill="#c0c0c0"/>
<rect x="382" y="636" width="1" height="41" fill="#c0c0c0"/>
<rect x="390" y="636" width="1" height="40" fill="#c0c0c0"/>
<rect x="398" y="636" width="1" height="40" fill="#c0c0c0"/>
<rect x="406" y="636" width="1" height="40" fill="#c0c0c0"/>
<rect x="414" y="636" width="1" height="41" fill="#c0c0c0"/>
<rect x="422" y="636" width="1" height="38" fill="#c0c0c0"/>
<rect x="430" y="636" width="1" height="36" fill="#c0c0c0"/>
<rect x="438" y="636" width="1" height="36" fill="#c0c0c0"/>
<rect x="446" y="636" width="1" height="23" fill="#c0c0c0"/>
<rect x="454" y="636" width="1" height="12" fill="#c0c0c0"/>
<rect x="462" y="636" width="1" height="7" fill="#c0c0c0"/>
<rect x="470" y="636" width="1" height="7" fill="#c0c0c0"/>
<rect x="478" y="636" width="1" height="22" fill="#c0c0c0"/>
<rect x="486" y="636" width="1" height="40" fill="#c0c0c0"/>
<rect x="494" y="636" width="1" height="50" fill="#c0c0c0"/>
<rect x="502" y="636" width="1" height="57" fill="#c0c0c0"/>
<rect x="510" y="636" width="1" height="61" fill="#c0c0c0"/>
<rect x="518" y="636" width="1" height="70" fill="#c0c0c0"/>
<rect x="526" y="636" width="1" height="73" fill="#c0c0c0"/>
<rect x="534" y="636" width="1" height="74" fill="#c0c0c0"/>
<rect x="542" y="636" width="1" height="75" fill="#c0c0c0"/>
<rect x="550" y="636" width="1" height="76" fill="#c0c0c0"/>
<rect x="558" y="636" width="1" height="79" fill="#c0c0c0"/>
<rect x="566" y="636" width="1" height="81" fill="#c0c0c0"/>
<rect x="574" y="636" width="1" height="74" fill="#c0c0c0"/>
<rect x="582" y="636" width="1" height="71" fill="#c0c0c0"/>
<rect x="590" y="636" width="1" height="68" fill="#c0c0c0"/>
<rect x="598" y="636" width="1" height="64" fill="#c0c0c0"/>
<rect x="606" y="636" width="1" height="57" fill="#c0c0c0"/>
<rect x="614" y="636" width="1" height="57" fill="#c0c0c0"/>
<rect x="622" y="636" width="1" height="53" fill="#c0c0c0"/>
<rect x="630" y="636" width="1" height="52" fill="#c0c0c0"/>
<rect x="638" y="636" width="1" height="51" fill="#c0c0c0"/>
<rect x="646" y="636" width="1" height="50" fill="#c0c0c0"/>
<rect x="654" y="636" width="1" height="46" fill="#c0c0c0"/>
<rect x="662" y="636" width="1" height="41" fill="#c0c0c0"/>
<rect x="670" y="636" width="1" height="36" fill="#c0c0c0"/>
<rect x="678" y="636" width="1" height="36" fill="#c0c0c0"/>
<rect x="686" y="636" width="1" height="42" fill="#c0c0c0"/>
<rect x="694" y="636" width="1" height="48" fill="#c0c0c0"/>
<rect x="702" y="636" width="1" height="52" fill="#c0c0c0"/>
<rect x="710" y="636" width="1" height="58" fill="#c0c0c0"/>
<rect x="718" y="636" width="1" height="62" fill="#c0c0c0"/>
<rect x="726" y="636" width="1" height="64" fill="#c0c0c0"/>
<rect x="734" y="636" width="1" height="66" fill="#c0c0c0"/>
<rect x="742" y="636" width="1" height="65" fill="#c0c0c0"/>
<rect x="750" y="636" width="1" height="62" fill="#c0c0c0"/>
<rect x="758" y="636" width="1" height="60" fill="#c0c0c0"/>
<rect x="766" y="636" width="1" height="60" fill="#c0c0c0"/>
<rect x="774" y="636" width="1" height="54" fill="#c0c0c0"/>
<rect x="782" y="636" width="1" height="49" fill="#c0c0c0"/>
<rect x="790" y="636" width="1" height="42" fill="#c0c0c0"/>
<rect x="798" y="636" width="1" height="39" fill="#c0c0c0"/>
<rect x="806" y="636" width="1" height="38" fill="#c0c0c0"/>
<rect x="814" y="636" width="1" height="33" fill="#c0c0c0"/>
<rect x="822" y="636" width="1" height="27" fill="#c0c0c0"/>
<rect x="830" y="636" width="1" height="18" fill="#c0c0c0"/>
<rect x="838" y="636" width="1" height="9" fill="#c0c0c0"/>
<rect x="846" y="636" width="1" height="2" fill="#c0c0c0"/>
<rect x="854" y="622" width="1" height="15" fill="#c0c0c0"/>
<rect x="862" y="605" width="1" height="32" fill="#c0c0c0"/>
<rect x="870" y="593" width="1" height="44" fill="#c0c0c0"/>
<rect x="878" y="583" width="1" height="54" fill="#c0c0c0"/>
<rect x="886" y="575" width="1" height="62" fill="#c0c0c0"/>
<rect x="894" y="571" width="1" height="66" fill="#c0c0c0"/>
<rect x="902" y="577" width="1" height="60" fill="#c0c0c0"/>
<rect x="910" y="579" width="1" height="58" fill="#c0c0c0"/>
<rect x="918" y="584" width="1" height="53" fill="#c0c0c0"/>
<rect x="926" y="594" width="1" height="43" fill="#c0c0c0"/>
<rect x="934" y="602" width="1" height="35" fill="#c0c0c0"/>
<rect x="942" y="604" width="1" height="33" fill="#c0c0c0"/>
<rect x="950" y="607" width="1" height="30" fill="#c0c0c0"/>
<rect x="958" y="604" width="1" height="33" fill="#c0c0c0"/>
<rect x="966" y="595" width="1" height="42" fill="#c0c0c0"/>
<rect x="974" y="590" width="1" height="47" fill="#c0c0c0"/>
<rect x="982" y="589" width="1" height="48" fill="#c0c0c0"/>
<rect x="990" y="591" width="1" height="46" fill="#c0c0c0"/>
<rect x="998" y="590" width="1" height="47" fill="#c0c0c0"/>
<rect x="1006" y="590" width="1" height="47" fill="#c0c0c0"/>
<rect x="1014" y="589" width="1" height="48" fill="#c0c0c0"/>
<rect x="1022" y="590" width="1" height="47" fill="#c0c0c0"/>
<rect x="1030" y="589" width="1" height="48" fill="#c0c0c0"/>
<rect x="1038" y="584" width="1" height="53" fill="#c0c0c0"/>
<rect x="1046" y="580" width="1" height="57" fill="#c0c0c0"/>
<rect x="1054" y="576" width="1" height="61" fill="#c0c0c0"/>
<rect x="1062" y="573" width="1" height="64" fill="#c0c0c0"/>
<rect x="1070" y="571" width="1" height="66" fill="#c0c0c0"/>
<rect x="1078" y="571" width="1" height="66" fill="#c0c0c0"/>
<rect x="1086" y="572" width="1" height="65" fill="#c0c0c0"/>
<rect x="1094" y="572" width="1" height="65" fill="#c0c0c0"/>
<rect x="1102" y="581" width="1" height="56" fill="#c0c0c0"/>
<rect x="1110" y="584" width="1" height="53" fill="#c0c0c0"/>
<rect x="1118" y="588" width="1" height="49" fill="#c0c0c0"/>
<rect x="1126" y="591" width="1" height="46" fill="#c0c0c0"/>
<rect x="1134" y="595" width="1" height="42" fill="#c0c0c0"/>
<rect x="1142" y="597" width="1" height="40" fill="#c0c0c0"/>
<rect x="1150" y="605" width="1" height="32" fill="#c0c0c0"/>
<rect x="1158" y="606" width="1" height="31" fill="#c0c0c0"/>
<rect x="1166" y="604" width="1" height="33" fill="#c0c0c0"/>
<rect x="1174" y="601" width="1" height="36" fill="#c0c0c0"/>
<rect x="1182" y="600" width="1" height="37" fill="#c0c0c0"/>
<rect x="1190" y="599" width="1" height="38" fill="#c0c0c0"/>
<rect x="1198" y="598" width="1" height="39" fill="#c0c0c0"/>
<rect x="1206" y="599" width="1" height="38" fill="#c0c0c0"/>
<rect x="1214" y="599" width="1" height="38" fill="#c0c0c0"/>
<rect x="1222" y="597" width="1" height="40" fill="#c0c0c0"/>
<rect x="1230" y="593" width="1" height="44" fill="#c0c0c0"/>
<rect x="1238" y="593" width="1" height="44" fill="#c0c0c0"/>
<rect x="1246" y="594" width="1" height="43" fill="#c0c0c0"/>
<rect x="1254" y="595" width="1" height="42" fill="#c0c0c0"/>
<rect x="1262" y="596" width="1" height="41" fill="#c0c0c0"/>
<rect x="1270" y="597" width="1" height="40" fill="#c0c0c0"/>
<rect x="1278" y="596" width="1" height="41" fill="#c0c0c0"/>
<rect x="1286" y="598" width="1" height="39" fill="#c0c0c0"/>
<rect x="1294" y="598" width="1" height="39" fill="#c0c0c0"/>
<rect x="1302" y="597" width="1" height="40" fill="#c0c0c0"/>
<rect x="1310" y="597" width="1" height="40" fill="#c0c0c0"/>
<rect x="1318" y="598" width="1" height="39" fill="#c0c0c0"/>
<rect x="1326" y="602" width="1" height="35" fill="#c0c0c0"/>
<rect x="1334" y="607" width="1" height="30" fill="#c0c0c0"/>
<rect x="1342" y="613" width="1" height="24" fill="#c0c0c0"/>
<rect x="1350" y="614" width="1" height="23" fill="#c0c0c0"/>
<rect x="1358" y="618" width="1" height="19" fill="#c0c0c0"/>
<rect x="1366" y="620" width="1" height="17" fill="#c0c0c0"/>
<rect x="1374" y="623" width="1" height="14" fill="#c0c0c0"/>
<rect x="1382" y="626" width="1" height="11" fill="#c0c0c0"/>
<rect x="1390" y="631" width="1" height="6" fill="#c0c0c0"/>
<rect x="1398" y="636" width="1" height="10" fill="#c0c0c0"/>
<rect x="1406" y="636" width="1" height="19" fill="#c0c0c0"/>
<rect x="1414" y="636" width="1" height="26" fill="#c0c0c0"/>
<rect x="1422" y="636" width="1" height="32" fill="#c0c0c0"/>
<rect x="1430" y="636" width="1" height="31" fill="#c0c0c0"/>
<rect x="1438" y="636" width="1" height="27" fill="#c0c0c0"/>
<rect x="1446" y="636" width="1" height="24" fill="#c0c0c0"/>
<rect x="1454" y="636" width="1" height="19" fill="#c0c0c0"/>
<rect x="1462" y="636" width="1" height="15" fill="#c0c0c0"/>
<polyline points="-1.5,641.0 6.5,639.4 14.5,638.2 22.5,637.4 30.5,637.3 38.5,638.6 46.5,640.9 54.5,644.9 62.5,650.9 70.5,657.7 78.5,665.4 86.5,674.4 94.5,684.2 102.5,694.5 110.5,703.7 118.5,712.1 126.5,718.6 134.5,724.0 142.5,728.8 150.5,733.6 158.5,738.0 166.5,742.2 174.5,745.5 182.5,748.8 190.5,751.9 198.5,755.5 206.5,758.8 214.5,761.6 222.5,763.6 230.5,764.0 238.5,764.6 246.5,765.2 254.5,765.3 262.5,765.1 270.5,764.1 278.5,761.7 286.5,758.2 294.5,753.5 302.5,748.0 310.5,740.8 318.5,732.6 326.5,724.0 334.5,715.1 342.5,706.9 350.5,700.4 358.5,695.2 366.5,690.9 374.5,687.5 382.5,684.7 390.5,682.5 398.5,681.1 406.5,680.2 414.5,679.4 422.5,678.0 430.5,676.4 438.5,675.1 446.5,672.8 454.5,669.6 462.5,666.0 470.5,662.3 478.5,660.3 486.5,660.2 494.5,661.4 502.5,663.7 510.5,666.5 518.5,671.8 526.5,678.5 534.5,685.9 542.5,693.5 550.5,699.5 558.5,703.9 566.5,707.4 574.5,709.3 582.5,710.4 590.5,710.2 598.5,709.2 606.5,707.4 614.5,705.3 622.5,702.7 630.5,699.7 638.5,696.2 646.5,693.6 654.5,690.8 662.5,687.9 670.5,684.8 678.5,682.4 686.5,680.8 694.5,680.2 702.5,680.2 710.5,681.0 718.5,682.3 726.5,684.3 734.5,687.0 742.5,690.2 750.5,693.2 758.5,695.2 766.5,696.5 774.5,696.7 782.5,695.7 790.5,693.5 798.5,690.7 806.5,687.7 814.5,684.1 822.5,680.1 830.5,675.4 838.5,669.9 846.5,664.1 854.5,657.2 862.5,649.2 870.5,640.1 878.5,630.1 886.5,619.8 894.5,609.7 902.5,601.2 910.5,594.0 918.5,588.1 926.5,585.0 934.5,584.7 942.5,586.0 950.5,588.6 958.5,591.9 966.5,594.6 974.5,596.1 982.5,597.2 990.5,597.9 998.5,597.4 1006.5,596.1 1014.5,594.4 1022.5,592.6 1030.5,590.9 1038.5,589.6 1046.5,588.5 1054.5,587.0 1062.5,585.0 1070.5,582.9 1078.5,580.8 1086.5,578.9 1094.5,576.9 1102.5,576.0 1110.5,576.1 1118.5,577.0 1126.5,578.7 1134.5,581.1 1142.5,584.1 1150.5,587.8 1158.5,591.6 1166.5,595.1 1174.5,597.4 1182.5,599.2 1190.5,600.4 1198.5,601.1 1206.5,601.6 1214.5,601.8 1222.5,600.9 1230.5,599.4 1238.5,598.2 1246.5,597.3 1254.5,596.8 1262.5,596.4 1270.5,596.2 1278.5,595.8 1286.5,595.7 1294.5,595.9 1302.5,596.4 1310.5,596.9 1318.5,597.4 1326.5,598.2 1334.5,599.4 1342.5,601.2 1350.5,603.3 1358.5,605.4 1366.5,607.9 1374.5,610.8 1382.5,614.0 1390.5,617.6 1398.5,622.3 1406.5,627.5 1414.5,632.9 1422.5,638.7 1430.5,644.1 1438.5,648.8 1446.5,652.7 1454.5,655.9 1462.5,658.1" fill="none" stroke="#ff0000" stroke-width="1" stroke-dasharray="3,3"/>
<line x1="1415.5" y1="669.5" x2="1485" y2="654.5" stroke="#ff0000" stroke-width="3" stroke-linecap="square"/>
<polygon points="1483,650 1485.8,659.5 1495.5,652.6" fill="#ff0000"/>
</g>
<g clip-path="url(#crsi)">
<line x1="3" y1="811.5" x2="1649" y2="811.5" stroke="#c0c0c0" stroke-width="1" stroke-dasharray="3,3"/>
<line x1="3" y1="853.5" x2="1649" y2="853.5" stroke="#c0c0c0" stroke-width="1" stroke-dasharray="3,3"/>
<line x1="3" y1="902.5" x2="1649" y2="902.5" stroke="#c0c0c0" stroke-width="1" stroke-dasharray="3,3"/>
<polyline points="-1.5,854.3 6.5,851.5 14.5,855.1 22.5,857.5 30.5,858.5 38.5,882.1 46.5,882.6 54.5,889.6 62.5,891.9 70.5,890.0 78.5,892.6 86.5,897.4 94.5,897.2 102.5,900.9 110.5,888.1 118.5,888.7 126.5,879.1 134.5,885.6 142.5,888.2 150.5,894.1 158.5,895.8 166.5,896.3 174.5,896.4 182.5,897.1 190.5,897.6 198.5,899.3 206.5,899.3 214.5,899.6 222.5,902.1 230.5,885.1 238.5,896.7 246.5,892.8 254.5,885.4 262.5,885.6 270.5,880.5 278.5,863.5 286.5,864.1 294.5,862.1 302.5,855.1 310.5,860.2 318.5,862.4 326.5,858.7 334.5,861.1 342.5,867.9 350.5,872.7 358.5,870.2 366.5,862.4 374.5,861.3 382.5,862.1 390.5,866.5 398.5,868.8 406.5,868.5 414.5,871.4 422.5,862.6 430.5,862.9 438.5,868.0 446.5,839.9 454.5,840.1 462.5,848.2 470.5,855.7 478.5,875.8 486.5,881.7 494.5,874.6 502.5,874.9 510.5,873.7 518.5,879.5 526.5,874.4 534.5,873.0 542.5,874.6 550.5,875.3 558.5,879.2 566.5,879.5 574.5,862.3 582.5,867.1 590.5,867.3 598.5,866.6 606.5,859.7 614.5,867.4 622.5,862.8 630.5,867.0 638.5,865.6 646.5,867.5 654.5,861.7 662.5,858.4 670.5,856.3 678.5,863.9 686.5,874.9 694.5,876.1 702.5,876.9 710.5,880.2 718.5,881.0 726.5,880.9 734.5,880.9 742.5,877.4 750.5,873.0 758.5,873.5 766.5,878.1 774.5,861.6 782.5,861.9 790.5,857.4 798.5,862.4 806.5,866.4 814.5,855.0 822.5,852.6 830.5,841.8 838.5,840.4 846.5,838.5 854.5,824.6 862.5,818.1 870.5,822.6 878.5,820.9 886.5,820.6 894.5,826.4 902.5,845.0 910.5,841.0 918.5,846.7 926.5,856.7 934.5,855.7 942.5,848.5 950.5,848.7 958.5,840.7 966.5,831.4 974.5,833.4 982.5,840.1 990.5,843.2 998.5,839.2 1006.5,840.5 1014.5,837.1 1022.5,842.0 1030.5,837.0 1038.5,831.4 1046.5,830.5 1054.5,827.2 1062.5,828.6 1070.5,827.4 1078.5,831.2 1086.5,831.7 1094.5,828.8 1102.5,851.2 1110.5,843.2 1118.5,845.5 1126.5,844.0 1134.5,845.5 1142.5,844.3 1150.5,856.1 1158.5,846.4 1166.5,840.0 1174.5,838.4 1182.5,838.6 1190.5,838.5 1198.5,836.7 1206.5,841.3 1214.5,837.4 1222.5,834.2 1230.5,828.7 1238.5,837.2 1246.5,838.9 1254.5,840.1 1262.5,837.2 1270.5,837.9 1278.5,832.9 1286.5,842.2 1294.5,837.9 1302.5,834.0 1310.5,835.5 1318.5,838.5 1326.5,848.7 1334.5,851.7 1342.5,856.8 1350.5,846.5 1358.5,853.7 1366.5,851.7 1374.5,856.0 1382.5,856.0 1390.5,861.8 1398.5,882.0 1406.5,877.0 1414.5,877.0 1422.5,877.6 1430.5,862.7 1438.5,855.5 1446.5,855.6 1454.5,850.9 1462.5,851.3" fill="none" stroke="#1e90ff" stroke-width="1"/>
<line x1="1396.5" y1="878.5" x2="1457" y2="856" stroke="#ff0000" stroke-width="3" stroke-linecap="square"/>
<polygon points="1455,852 1459.3,860.5 1468.5,852.2 1467,851" fill="#ff0000"/>
</g>
<rect x="0" y="23" width="1650" height="1" fill="#000000"/>
<rect x="0" y="558" width="1650" height="1" fill="#000000"/>
<rect x="0" y="560" width="1650" height="1" fill="#000000"/>
<rect x="0" y="779" width="1650" height="1" fill="#000000"/>
<rect x="0" y="781" width="1650" height="1" fill="#000000"/>
<rect x="0" y="924" width="1650" height="1" fill="#000000"/>
<rect x="1649" y="23" width="1" height="536" fill="#000000"/>
<rect x="1649" y="560" width="1" height="220" fill="#000000"/>
<rect x="1649" y="781" width="1" height="144" fill="#000000"/>
<rect x="1695" y="21" width="1" height="923" fill="#e6e6e6"/>
<rect x="1650" y="27" width="2" height="1" fill="#000000"/>
<text x="1655" y="31" font-size="9.5" fill="#000" textLength="33" lengthAdjust="spacingAndGlyphs" stroke="#000" stroke-width="0.3" class="t">1.31315</text>
<rect x="1650" y="60" width="2" height="1" fill="#000000"/>
<text x="1655" y="64" font-size="9.5" fill="#000" textLength="33" lengthAdjust="spacingAndGlyphs" stroke="#000" stroke-width="0.3" class="t">1.30700</text>
<rect x="1650" y="93" width="2" height="1" fill="#000000"/>
<text x="1655" y="97" font-size="9.5" fill="#000" textLength="33" lengthAdjust="spacingAndGlyphs" stroke="#000" stroke-width="0.3" class="t">1.30070</text>
<rect x="1650" y="126" width="2" height="1" fill="#000000"/>
<text x="1655" y="130" font-size="9.5" fill="#000" textLength="33" lengthAdjust="spacingAndGlyphs" stroke="#000" stroke-width="0.3" class="t">1.29455</text>
<rect x="1650" y="159" width="2" height="1" fill="#000000"/>
<text x="1655" y="163" font-size="9.5" fill="#000" textLength="33" lengthAdjust="spacingAndGlyphs" stroke="#000" stroke-width="0.3" class="t">1.28825</text>
<rect x="1650" y="192" width="2" height="1" fill="#000000"/>
<text x="1655" y="196" font-size="9.5" fill="#000" textLength="33" lengthAdjust="spacingAndGlyphs" stroke="#000" stroke-width="0.3" class="t">1.28210</text>
<rect x="1650" y="225" width="2" height="1" fill="#000000"/>
<text x="1655" y="229" font-size="9.5" fill="#000" textLength="33" lengthAdjust="spacingAndGlyphs" stroke="#000" stroke-width="0.3" class="t">1.27580</text>
<rect x="1650" y="258" width="2" height="1" fill="#000000"/>
<text x="1655" y="262" font-size="9.5" fill="#000" textLength="33" lengthAdjust="spacingAndGlyphs" stroke="#000" stroke-width="0.3" class="t">1.26965</text>
<rect x="1650" y="291" width="2" height="1" fill="#000000"/>
<text x="1655" y="295" font-size="9.5" fill="#000" textLength="33" lengthAdjust="spacingAndGlyphs" stroke="#000" stroke-width="0.3" class="t">1.26335</text>
<rect x="1650" y="324" width="2" height="1" fill="#000000"/>
<text x="1655" y="328" font-size="9.5" fill="#000" textLength="33" lengthAdjust="spacingAndGlyphs" stroke="#000" stroke-width="0.3" class="t">1.25720</text>
<rect x="1650" y="357" width="2" height="1" fill="#000000"/>
<text x="1655" y="361" font-size="9.5" fill="#000" textLength="33" lengthAdjust="spacingAndGlyphs" stroke="#000" stroke-width="0.3" class="t">1.25090</text>
<rect x="1650" y="390" width="2" height="1" fill="#000000"/>
<text x="1655" y="394" font-size="9.5" fill="#000" textLength="33" lengthAdjust="spacingAndGlyphs" stroke="#000" stroke-width="0.3" class="t">1.24475</text>
<rect x="1650" y="423" width="2" height="1" fill="#000000"/>
<text x="1655" y="427" font-size="9.5" fill="#000" textLength="33" lengthAdjust="spacingAndGlyphs" stroke="#000" stroke-width="0.3" class="t">1.23845</text>
<rect x="1650" y="456" width="2" height="1" fill="#000000"/>
<text x="1655" y="460" font-size="9.5" fill="#000" textLength="33" lengthAdjust="spacingAndGlyphs" stroke="#000" stroke-width="0.3" class="t">1.23230</text>
<rect x="1650" y="489" width="2" height="1" fill="#000000"/>
<text x="1655" y="493" font-size="9.5" fill="#000" textLength="33" lengthAdjust="spacingAndGlyphs" stroke="#000" stroke-width="0.3" class="t">1.22600</text>
<rect x="1650" y="522" width="2" height="1" fill="#000000"/>
<text x="1655" y="526" font-size="9.5" fill="#000" textLength="33" lengthAdjust="spacingAndGlyphs" stroke="#000" stroke-width="0.3" class="t">1.21985</text>
<rect x="1650" y="555" width="2" height="1" fill="#000000"/>
<text x="1655" y="559" font-size="9.5" fill="#000" textLength="33" lengthAdjust="spacingAndGlyphs" stroke="#000" stroke-width="0.3" class="t">1.21355</text>
<rect x="1651" y="258" width="41" height="11" fill="#ff4500"/>
<text x="1655" y="267" font-size="9.5" fill="#ffffff" textLength="33" lengthAdjust="spacingAndGlyphs" stroke="#ffffff" stroke-width="0.3" class="t">1.26849</text>
<rect x="1651" y="289" width="41" height="11" fill="#ff0000"/>
<text x="1655" y="298" font-size="9.5" fill="#ffffff" textLength="33" lengthAdjust="spacingAndGlyphs" stroke="#ffffff" stroke-width="0.3" class="t">1.26265</text>
<rect x="1651" y="329" width="41" height="11" fill="#32cd32"/>
<text x="1655" y="338" font-size="9.5" fill="#ffffff" textLength="33" lengthAdjust="spacingAndGlyphs" stroke="#ffffff" stroke-width="0.3" class="t">1.25511</text>
<rect x="1651" y="360" width="41" height="11" fill="#0000ff"/>
<text x="1655" y="369" font-size="9.5" fill="#ffffff" textLength="33" lengthAdjust="spacingAndGlyphs" stroke="#ffffff" stroke-width="0.3" class="t">1.24927</text>
<rect x="1651" y="392" width="41" height="11" fill="#0000ff"/>
<text x="1655" y="401" font-size="9.5" fill="#ffffff" textLength="33" lengthAdjust="spacingAndGlyphs" stroke="#ffffff" stroke-width="0.3" class="t">1.24324</text>
<rect x="1651" y="319" width="41" height="10" fill="#000000"/>
<text x="1655" y="328" font-size="9.5" fill="#ffffff" textLength="33" lengthAdjust="spacingAndGlyphs" stroke="#ffffff" stroke-width="0.3" class="t">1.25719</text>
<rect x="1650" y="562" width="2" height="1" fill="#000000"/>
<text x="1653" y="571" font-size="9.5" fill="#000" textLength="38" lengthAdjust="spacingAndGlyphs" stroke="#000" stroke-width="0.3" class="t">0.006028</text>
<rect x="1650" y="636" width="2" height="1" fill="#000000"/>
<text x="1653" y="640" font-size="9.5" fill="#000" textLength="19" lengthAdjust="spacingAndGlyphs" stroke="#000" stroke-width="0.3" class="t">0.00</text>
<rect x="1650" y="778" width="2" height="1" fill="#000000"/>
<text x="1653" y="776" font-size="9.5" fill="#000" textLength="40" lengthAdjust="spacingAndGlyphs" stroke="#000" stroke-width="0.3" class="t">-0.011431</text>
<text x="-4" y="573" font-size="9.5" fill="#000" textLength="152" lengthAdjust="spacingAndGlyphs" stroke="#000" stroke-width="0.3" class="t">MACD(12,26,9) -0.001175 -0.001720</text>
<rect x="1650" y="783" width="2" height="1" fill="#000000"/>
<text x="1653" y="792" font-size="9.5" fill="#000" textLength="15" lengthAdjust="spacingAndGlyphs" stroke="#000" stroke-width="0.3" class="t">100</text>
<rect x="1650" y="811" width="2" height="1" fill="#000000"/>
<text x="1652" y="815" font-size="9.5" fill="#000" textLength="10" lengthAdjust="spacingAndGlyphs" stroke="#000" stroke-width="0.3" class="t">80</text>
<rect x="1650" y="853" width="2" height="1" fill="#000000"/>
<text x="1652" y="857" font-size="9.5" fill="#000" textLength="10" lengthAdjust="spacingAndGlyphs" stroke="#000" stroke-width="0.3" class="t">50</text>
<rect x="1650" y="902" width="2" height="1" fill="#000000"/>
<text x="1652" y="906" font-size="9.5" fill="#000" textLength="10" lengthAdjust="spacingAndGlyphs" stroke="#000" stroke-width="0.3" class="t">15</text>
<rect x="1650" y="923" width="2" height="1" fill="#000000"/>
<text x="1653" y="921" font-size="9.5" fill="#000" textLength="5" lengthAdjust="spacingAndGlyphs" stroke="#000" stroke-width="0.3" class="t">0</text>
<text x="-7" y="794" font-size="9.5" fill="#000" textLength="69" lengthAdjust="spacingAndGlyphs" stroke="#000" stroke-width="0.3" class="t">RSI(14) 51.5300</text>
<g clip-path="url(#cax)">
<rect x="-10" y="925" width="1" height="3" fill="#000000"/>
<text x="-11" y="937" font-size="9.5" fill="#000" stroke="#000" stroke-width="0.3" class="t">21 Apr 2022</text>
<rect x="54" y="925" width="1" height="3" fill="#000000"/>
<text x="53" y="937" font-size="9.5" fill="#000" stroke="#000" stroke-width="0.3" class="t">22 Apr 12:00</text>
<rect x="118" y="925" width="1" height="3" fill="#000000"/>
<text x="117" y="937" font-size="9.5" fill="#000" stroke="#000" stroke-width="0.3" class="t">25 Apr 20:00</text>
<rect x="182" y="925" width="1" height="3" fill="#000000"/>
<text x="181" y="937" font-size="9.5" fill="#000" stroke="#000" stroke-width="0.3" class="t">27 Apr 04:00</text>
<rect x="246" y="925" width="1" height="3" fill="#000000"/>
<text x="245" y="937" font-size="9.5" fill="#000" stroke="#000" stroke-width="0.3" class="t">28 Apr 12:00</text>
<rect x="310" y="925" width="1" height="3" fill="#000000"/>
<text x="309" y="937" font-size="9.5" fill="#000" stroke="#000" stroke-width="0.3" class="t">1 May 23:00</text>
<rect x="374" y="925" width="1" height="3" fill="#000000"/>
<text x="373" y="937" font-size="9.5" fill="#000" stroke="#000" stroke-width="0.3" class="t">3 May 04:00</text>
<rect x="438" y="925" width="1" height="3" fill="#000000"/>
<text x="437" y="937" font-size="9.5" fill="#000" stroke="#000" stroke-width="0.3" class="t">4 May 12:00</text>
<rect x="502" y="925" width="1" height="3" fill="#000000"/>
<text x="501" y="937" font-size="9.5" fill="#000" stroke="#000" stroke-width="0.3" class="t">5 May 20:00</text>
<rect x="566" y="925" width="1" height="3" fill="#000000"/>
<text x="565" y="937" font-size="9.5" fill="#000" stroke="#000" stroke-width="0.3" class="t">9 May 04:00</text>
<rect x="630" y="925" width="1" height="3" fill="#000000"/>
<text x="629" y="937" font-size="9.5" fill="#000" stroke="#000" stroke-width="0.3" class="t">10 May 12:00</text>
<rect x="694" y="925" width="1" height="3" fill="#000000"/>
<text x="693" y="937" font-size="9.5" fill="#000" stroke="#000" stroke-width="0.3" class="t">11 May 20:00</text>
<rect x="758" y="925" width="1" height="3" fill="#000000"/>
<text x="757" y="937" font-size="9.5" fill="#000" stroke="#000" stroke-width="0.3" class="t">13 May 04:00</text>
<rect x="822" y="925" width="1" height="3" fill="#000000"/>
<text x="821" y="937" font-size="9.5" fill="#000" stroke="#000" stroke-width="0.3" class="t">16 May 12:00</text>
<rect x="886" y="925" width="1" height="3" fill="#000000"/>
<text x="885" y="937" font-size="9.5" fill="#000" stroke="#000" stroke-width="0.3" class="t">17 May 20:00</text>
<rect x="950" y="925" width="1" height="3" fill="#000000"/>
<text x="949" y="937" font-size="9.5" fill="#000" stroke="#000" stroke-width="0.3" class="t">19 May 04:00</text>
<rect x="1014" y="925" width="1" height="3" fill="#000000"/>
<text x="1013" y="937" font-size="9.5" fill="#000" stroke="#000" stroke-width="0.3" class="t">20 May 12:00</text>
<rect x="1078" y="925" width="1" height="3" fill="#000000"/>
<text x="1077" y="937" font-size="9.5" fill="#000" stroke="#000" stroke-width="0.3" class="t">23 May 20:00</text>
<rect x="1142" y="925" width="1" height="3" fill="#000000"/>
<text x="1141" y="937" font-size="9.5" fill="#000" stroke="#000" stroke-width="0.3" class="t">25 May 04:00</text>
<rect x="1206" y="925" width="1" height="3" fill="#000000"/>
<text x="1205" y="937" font-size="9.5" fill="#000" stroke="#000" stroke-width="0.3" class="t">26 May 12:00</text>
<rect x="1270" y="925" width="1" height="3" fill="#000000"/>
<text x="1269" y="937" font-size="9.5" fill="#000" stroke="#000" stroke-width="0.3" class="t">29 May 23:00</text>
<rect x="1334" y="925" width="1" height="3" fill="#000000"/>
<text x="1333" y="937" font-size="9.5" fill="#000" stroke="#000" stroke-width="0.3" class="t">31 May 04:00</text>
<rect x="1398" y="925" width="1" height="3" fill="#000000"/>
<text x="1397" y="937" font-size="9.5" fill="#000" stroke="#000" stroke-width="0.3" class="t">1 Jun 12:00</text>
<rect x="1462" y="925" width="1" height="3" fill="#000000"/>
<text x="1461" y="937" font-size="9.5" fill="#000" stroke="#000" stroke-width="0.3" class="t">2 Jun 20:00</text>
</g>
<rect x="0" y="0" width="1696" height="18" fill="#efefef"/>
<rect x="0" y="18" width="1696" height="1" fill="#f6f6f6"/>
<rect x="0" y="19" width="1696" height="1" fill="#a0a0a0"/>
<rect x="0" y="20" width="1696" height="1" fill="#646464"/>
<g shape-rendering="auto">
<defs><linearGradient id="ggold" x1="0" y1="0" x2="1" y2="1"><stop offset="0" stop-color="#ffe070"/><stop offset="0.5" stop-color="#e8b820"/><stop offset="1" stop-color="#b07010"/></linearGradient><linearGradient id="ggreen" x1="0" y1="0" x2="1" y2="1"><stop offset="0" stop-color="#90ff90"/><stop offset="0.5" stop-color="#10e020"/><stop offset="1" stop-color="#00b000"/></linearGradient><linearGradient id="gblue" x1="0" y1="0" x2="0" y2="1"><stop offset="0" stop-color="#50b0ff"/><stop offset="1" stop-color="#0a70e0"/></linearGradient><linearGradient id="gcloud" x1="0" y1="0" x2="0" y2="1"><stop offset="0" stop-color="#ffffff"/><stop offset="1" stop-color="#c8d4e8"/></linearGradient><linearGradient id="gmag" x1="0" y1="0" x2="0" y2="1"><stop offset="0" stop-color="#f0f6ff"/><stop offset="1" stop-color="#a8c8f0"/></linearGradient></defs>
<path d="M-2,11 L3,13 L1,17 L-3,16z" fill="url(#ggold)"/>
<rect x="10" y="0" width="1" height="17" fill="#a0a0a0"/>
<rect x="11" y="0" width="1" height="17" fill="#ffffff"/>
<path d="M20.5,0h8l3,3v9.5h-11z" fill="#ffffff" stroke="#707070" stroke-width="1"/>
<rect x="22" y="2.5" width="2.5" height="1" fill="#888888"/>
<rect x="22" y="6" width="5" height="1" fill="#888888"/>
<rect x="22" y="8" width="5" height="1" fill="#888888"/>
<rect x="22" y="10" width="5" height="1" fill="#888888"/>
<path d="M28.2,5.5h3.6v3.7h3.7v3.6h-3.7v3.7h-3.6v-3.7h-3.7v-3.6h3.7z" fill="url(#ggreen)" stroke="#008a00" stroke-width="0.9"/>
<text x="39" y="10.3" font-size="12.5" fill="#000" textLength="36" lengthAdjust="spacingAndGlyphs" class="t" stroke="#000" stroke-width="0.25">新订单</text>
<path d="M88.5,9.5 L93.5,1 L102.5,6 L97.5,14.5z" fill="url(#ggold)" stroke="#a06810" stroke-width="0.9"/>
<path d="M97.5,14.5 L102.5,6 L103,8 L98.5,15.5z" fill="#c88820"/>
<rect x="117.5" y="0" width="10" height="9" fill="url(#gblue)" stroke="#1060c0" stroke-width="0.8"/>
<rect x="120" y="3" width="6" height="1" fill="#ffffff"/>
<rect x="120" y="5" width="6" height="1" fill="#ffffff"/>
<path d="M116,14.5 Q114.5,11 118,10.5 Q119,7.5 122.5,8.5 Q125,6.5 127.5,9 Q131.5,9 131,12 Q131.5,14.5 129,14.5z" fill="url(#gcloud)" stroke="#4a6aa8" stroke-width="0.9"/>
<circle cx="151" cy="7" r="7.2" fill="none" stroke="#6a8ad8" stroke-width="0.9" opacity="0.8"/>
<circle cx="151" cy="7" r="5.0" fill="none" stroke="#5a7ad0" stroke-width="0.9" opacity="0.8"/>
<circle cx="151" cy="7" r="2.9" fill="none" stroke="#4a6ac8" stroke-width="0.9" opacity="0.8"/>
<path d="M151,0 A7.2,7.2 0 0 1 151,14.2" fill="none" stroke="#60b060" stroke-width="1.4" opacity="0.7"/>
<circle cx="151" cy="7" r="1.6" fill="#2050d0"/>
<rect x="151" y="7" width="1" height="8" fill="#20a020"/>
<path d="M170.5,6 L185.5,6 L180.5,14.5 L177.5,14.5 Z" fill="#f8e070" stroke="#c8a020" stroke-width="0.8"/>
<ellipse cx="178.5" cy="4.6" rx="7.8" ry="2.4" fill="#68b4ea" stroke="#3a80c0" stroke-width="0.7"/>
<path d="M175,4.5 L178.5,-2 L182,4.5z" fill="#60b0e8"/>
<circle cx="182.5" cy="10.5" r="4.2" fill="#e02010" stroke="#b01000" stroke-width="0.8"/>
<rect x="181" y="9" width="3" height="3" fill="#ffffff"/>
<text x="192" y="10.3" font-size="12.5" fill="#000" textLength="47" lengthAdjust="spacingAndGlyphs" class="t" stroke="#000" stroke-width="0.25">自动交易</text>
<rect x="246" y="0" width="1" height="17" fill="#a0a0a0"/>
<rect x="247" y="0" width="1" height="17" fill="#ffffff"/>
<rect x="250" y="1" width="3" height="1" fill="#a8a8a8"/>
<rect x="250" y="3" width="3" height="1" fill="#a8a8a8"/>
<rect x="250" y="5" width="3" height="1" fill="#a8a8a8"/>
<rect x="250" y="7" width="3" height="1" fill="#a8a8a8"/>
<rect x="250" y="9" width="3" height="1" fill="#a8a8a8"/>
<rect x="250" y="11" width="3" height="1" fill="#a8a8a8"/>
<rect x="250" y="13" width="3" height="1" fill="#a8a8a8"/>
<rect x="250" y="15" width="3" height="1" fill="#a8a8a8"/>
<rect x="264" y="1" width="1" height="12" fill="#404040"/>
<rect x="263" y="12" width="13" height="1" fill="#404040"/>
<path d="M262.5,3 L264.5,0.5 L266.5,3" fill="none" stroke="#404040" stroke-width="0.9"/>
<path d="M274,10.5 L276.5,12.5 L274,14.5" fill="none" stroke="#404040" stroke-width="0.9"/>
<rect x="270" y="3" width="1" height="7" fill="#109010"/>
<rect x="271" y="3" width="2" height="1" fill="#109010"/>
<rect x="268" y="9" width="2" height="1" fill="#109010"/>
<rect x="284" y="0" width="1" height="17" fill="#a0a0a0"/>
<rect x="285" y="0" width="1" height="17" fill="#ffffff"/>
<rect x="285" y="0" width="25" height="17" fill="#f8f8f8"/>
<rect x="292" y="1" width="1" height="12" fill="#404040"/>
<rect x="291" y="12" width="13" height="1" fill="#404040"/>
<path d="M290.5,3 L292.5,0.5 L294.5,3" fill="none" stroke="#404040" stroke-width="0.9"/>
<path d="M302,10.5 L304.5,12.5 L302,14.5" fill="none" stroke="#404040" stroke-width="0.9"/>
<rect x="298" y="0" width="1" height="12" fill="#207020"/>
<rect x="296.5" y="2.5" width="4" height="7" fill="#20e040" stroke="#108020" stroke-width="0.9"/>
<rect x="320" y="1" width="1" height="12" fill="#404040"/>
<rect x="319" y="12" width="13" height="1" fill="#404040"/>
<path d="M318.5,3 L320.5,0.5 L322.5,3" fill="none" stroke="#404040" stroke-width="0.9"/>
<path d="M330,10.5 L332.5,12.5 L330,14.5" fill="none" stroke="#404040" stroke-width="0.9"/>
<path d="M322,9 Q326,1.5 329,5 L332,8" fill="none" stroke="#30a030" stroke-width="1.1"/>
<rect x="341" y="0" width="1" height="17" fill="#a0a0a0"/>
<rect x="342" y="0" width="1" height="17" fill="#ffffff"/>
<line x1="359" y1="10" x2="364" y2="15" stroke="#c8a020" stroke-width="2.4" stroke-linecap="round"/>
<circle cx="356" cy="6" r="5.2" fill="url(#gmag)" stroke="#3a78d0" stroke-width="1.3"/>
<rect x="353" y="5" width="6" height="2" fill="#3a78d0"/>
<rect x="355" y="3" width="2" height="6" fill="#3a78d0"/>
<line x1="387" y1="10" x2="392" y2="15" stroke="#c8a020" stroke-width="2.4" stroke-linecap="round"/>
<circle cx="384" cy="6" r="5.2" fill="url(#gmag)" stroke="#3a78d0" stroke-width="1.3"/>
<rect x="381" y="5" width="6" height="2" fill="#3a78d0"/>
<rect x="407.5" y="0.5" width="7" height="6" fill="#20a020" stroke="#103080" stroke-width="0.6"/>
<rect x="409" y="3" width="4" height="1" fill="#ffffff"/>
<rect x="415.5" y="0.5" width="7" height="6" fill="#2050d0" stroke="#103080" stroke-width="0.6"/>
<rect x="417" y="3" width="4" height="1" fill="#ffffff"/>
<rect x="407.5" y="8.5" width="7" height="6" fill="#2050d0" stroke="#103080" stroke-width="0.6"/>
<rect x="409" y="11" width="4" height="1" fill="#ffffff"/>
<rect x="415.5" y="8.5" width="7" height="6" fill="#20a020" stroke="#103080" stroke-width="0.6"/>
<rect x="417" y="11" width="4" height="1" fill="#ffffff"/>
<rect x="431" y="0" width="1" height="17" fill="#a0a0a0"/>
<rect x="432" y="0" width="1" height="17" fill="#ffffff"/>
<rect x="437" y="0" width="25" height="17" fill="#f8f8f8"/>
<rect x="444" y="1" width="1" height="12" fill="#404040"/>
<rect x="443" y="12" width="13" height="1" fill="#404040"/>
<path d="M442.5,3 L444.5,0.5 L446.5,3" fill="none" stroke="#404040" stroke-width="0.9"/>
<path d="M454,10.5 L456.5,12.5 L454,14.5" fill="none" stroke="#404040" stroke-width="0.9"/>
<path d="M450.5,2 L455,5.5 L450.5,9z" fill="#20b020"/>
<rect x="464" y="0" width="1" height="17" fill="#a0a0a0"/>
<rect x="465" y="0" width="1" height="17" fill="#ffffff"/>
<rect x="465" y="0" width="25" height="17" fill="#f8f8f8"/>
<rect x="472" y="1" width="1" height="12" fill="#404040"/>
<rect x="471" y="12" width="13" height="1" fill="#404040"/>
<path d="M470.5,3 L472.5,0.5 L474.5,3" fill="none" stroke="#404040" stroke-width="0.9"/>
<path d="M482,10.5 L484.5,12.5 L482,14.5" fill="none" stroke="#404040" stroke-width="0.9"/>
<rect x="478" y="1" width="1" height="10" fill="#2060c0"/>
<path d="M479.5,6 L483,3 L483,9z" fill="#e04010"/>
<rect x="482" y="5.5" width="3" height="1" fill="#e04010"/>
<rect x="493" y="0" width="1" height="17" fill="#a0a0a0"/>
<rect x="494" y="0" width="1" height="17" fill="#ffffff"/>
<path d="M503.5,0h8l3,3v9.5h-11z" fill="#ffffff" stroke="#707070" stroke-width="1"/>
<rect x="505" y="2.5" width="2.5" height="1" fill="#888888"/>
<rect x="505" y="6" width="5" height="1" fill="#888888"/>
<rect x="505" y="8" width="5" height="1" fill="#888888"/>
<rect x="505" y="10" width="5" height="1" fill="#888888"/>
<path d="M511.2,5.5h3.6v3.7h3.7v3.6h-3.7v3.7h-3.6v-3.7h-3.7v-3.6h3.7z" fill="url(#ggreen)" stroke="#008a00" stroke-width="0.9"/>
<path d="M524,6 h6 l-3,3.5z" fill="#000"/>
<circle cx="549" cy="7.5" r="7" fill="#2a6ad8" stroke="#1040a0" stroke-width="0.8"/>
<circle cx="549" cy="7.5" r="5" fill="#f4f8ff"/>
<path d="M549,4 V7.5 H552" fill="none" stroke="#303030" stroke-width="1"/>
<path d="M563,6 h6 l-3,3.5z" fill="#000"/>
<rect x="580.5" y="0.5" width="15" height="13" fill="#ffffff" stroke="#3a6ab8" stroke-width="1"/>
<rect x="581" y="1" width="15" height="2" fill="#5a8ad8"/>
<path d="M583,6 L586,5 L589,6 L594,4.5" fill="none" stroke="#c03020" stroke-width="0.9"/>
<path d="M583,11 L586,9.5 L589,11 L594,9" fill="none" stroke="#20a020" stroke-width="0.9"/>
<rect x="581" y="7" width="15" height="1" fill="#3a6ab8"/>
<path d="M602,6 h6 l-3,3.5z" fill="#000"/>
<rect x="614" y="0" width="1" height="17" fill="#a0a0a0"/>
<rect x="615" y="0" width="1" height="17" fill="#ffffff"/>
<rect x="618" y="1" width="3" height="1" fill="#a8a8a8"/>
<rect x="618" y="3" width="3" height="1" fill="#a8a8a8"/>
<rect x="618" y="5" width="3" height="1" fill="#a8a8a8"/>
<rect x="618" y="7" width="3" height="1" fill="#a8a8a8"/>
<rect x="618" y="9" width="3" height="1" fill="#a8a8a8"/>
<rect x="618" y="11" width="3" height="1" fill="#a8a8a8"/>
<rect x="618" y="13" width="3" height="1" fill="#a8a8a8"/>
<rect x="618" y="15" width="3" height="1" fill="#a8a8a8"/>
<rect x="624" y="0" width="1" height="17" fill="#a0a0a0"/>
<rect x="625" y="0" width="1" height="17" fill="#ffffff"/>
<rect x="626" y="0" width="24" height="17" fill="#f8f8f8"/>
<path d="M633,1 L633,12 L635.5,9.5 L638,14 L640,13 L637.5,8.5 L641,8.5z" fill="#303030"/>
<rect x="664" y="1" width="1" height="13" fill="#404040"/>
<rect x="657" y="7" width="15" height="1" fill="#404040"/>
<rect x="681" y="0" width="1" height="17" fill="#a0a0a0"/>
<rect x="682" y="0" width="1" height="17" fill="#ffffff"/>
<rect x="698" y="1" width="1" height="13" fill="#404040"/>
<rect x="721" y="7" width="12" height="1" fill="#404040"/>
<line x1="749" y1="13.5" x2="761" y2="1.5" stroke="#404040" stroke-width="1"/>
<line x1="776" y1="12" x2="783" y2="2" stroke="#404040" stroke-width="0.9"/>
<line x1="779" y1="12" x2="786" y2="2" stroke="#404040" stroke-width="0.9"/>
<line x1="782" y1="12" x2="789" y2="2" stroke="#404040" stroke-width="0.9"/>
<line x1="775" y1="9" x2="789" y2="3" stroke="#404040" stroke-width="0.9"/>
<text x="785" y="16" font-size="7" fill="#404040" font-weight="bold" class="t">E</text>
<line x1="804" y1="1.5" x2="817" y2="1.5" stroke="#505050" stroke-width="1" stroke-dasharray="1,1"/>
<line x1="804" y1="4.5" x2="817" y2="4.5" stroke="#505050" stroke-width="1" stroke-dasharray="1,1"/>
<line x1="804" y1="7.5" x2="817" y2="7.5" stroke="#505050" stroke-width="1" stroke-dasharray="1,1"/>
<line x1="804" y1="10.5" x2="817" y2="10.5" stroke="#505050" stroke-width="1" stroke-dasharray="1,1"/>
<text x="813" y="16" font-size="7" fill="#404040" font-weight="bold" class="t">F</text>
<text x="834" y="12" font-size="12" fill="#505050" textLength="9" lengthAdjust="spacingAndGlyphs" font-weight="bold" class="t">A</text>
<rect x="861.5" y="1.5" width="11" height="12" fill="none" stroke="#606060" stroke-width="1" stroke-dasharray="1,1"/>
<text x="863" y="12" font-size="11" fill="#404040" textLength="8" lengthAdjust="spacingAndGlyphs" font-weight="bold" class="t">T</text>
<path d="M889,4 L892,1 L895,4 L892,6z" fill="#404040"/><path d="M896,11 L899,8 L902,11 L899,14z" fill="#404040"/>
<path d="M891,7 L894,10 L899,4" fill="none" stroke="#404040" stroke-width="1.2"/>
<path d="M909,6 h6 l-3,3.5z" fill="#000"/>
<rect x="920" y="0" width="1" height="17" fill="#a0a0a0"/>
<rect x="921" y="0" width="1" height="17" fill="#ffffff"/>
<rect x="925" y="1" width="3" height="1" fill="#a8a8a8"/>
<rect x="925" y="3" width="3" height="1" fill="#a8a8a8"/>
<rect x="925" y="5" width="3" height="1" fill="#a8a8a8"/>
<rect x="925" y="7" width="3" height="1" fill="#a8a8a8"/>
<rect x="925" y="9" width="3" height="1" fill="#a8a8a8"/>
<rect x="925" y="11" width="3" height="1" fill="#a8a8a8"/>
<rect x="925" y="13" width="3" height="1" fill="#a8a8a8"/>
<rect x="925" y="15" width="3" height="1" fill="#a8a8a8"/>
<text x="935" y="11" font-size="10.5" fill="#444444" textLength="13.5" lengthAdjust="spacingAndGlyphs" class="t">M1</text>
<text x="963.4" y="11" font-size="10.5" fill="#444444" textLength="13.1" lengthAdjust="spacingAndGlyphs" class="t">M5</text>
<text x="989.4" y="11" font-size="10.5" fill="#444444" textLength="18.1" lengthAdjust="spacingAndGlyphs" class="t">M15</text>
<text x="1017.4" y="11" font-size="10.5" fill="#444444" textLength="18.0" lengthAdjust="spacingAndGlyphs" class="t">M30</text>
<text x="1048.6" y="11" font-size="10.5" fill="#444444" textLength="11.9" lengthAdjust="spacingAndGlyphs" class="t">H1</text>
<text x="1104" y="11" font-size="10.5" fill="#444444" textLength="12" lengthAdjust="spacingAndGlyphs" class="t">D1</text>
<text x="1132" y="11" font-size="10.5" fill="#444444" textLength="14" lengthAdjust="spacingAndGlyphs" class="t">W1</text>
<text x="1158.5" y="11" font-size="10.5" fill="#444444" textLength="15.0" lengthAdjust="spacingAndGlyphs" class="t">MN</text>
<rect x="1070" y="0" width="1" height="17" fill="#a0a0a0"/>
<rect x="1071" y="0" width="24" height="17" fill="#f8f8f8"/>
<text x="1075.5" y="11" font-size="10.5" fill="#444444" textLength="12.5" lengthAdjust="spacingAndGlyphs" class="t">H4</text>
<rect x="1181" y="0" width="1" height="17" fill="#a0a0a0"/>
<rect x="1182" y="0" width="1" height="17" fill="#ffffff"/>
<circle cx="1651.5" cy="4.3" r="3.6" fill="#ffffff" stroke="#2a64d0" stroke-width="1.3"/>
<line x1="1648.8" y1="7" x2="1645" y2="11.5" stroke="#2a64d0" stroke-width="2.2" stroke-linecap="round"/>
<path d="M1670,10 Q1668,5 1673,4.5 L1678,4.5 Q1682,5 1681,9.5 Q1680,12.5 1676,12.5 L1673.5,12.5 L1671.5,15 L1672,12.3 Q1669.5,11.8 1670,10z" fill="#e8ecf4" stroke="#a0a0a0" stroke-width="0.8"/>
<circle cx="1682.5" cy="4.3" r="8.4" fill="#e03818"/>
<text x="1679.3" y="8.8" font-size="11" fill="#ffffff" font-weight="bold" class="t" font-family="Liberation Serif">1</text>
</g>
</svg></body></html>
